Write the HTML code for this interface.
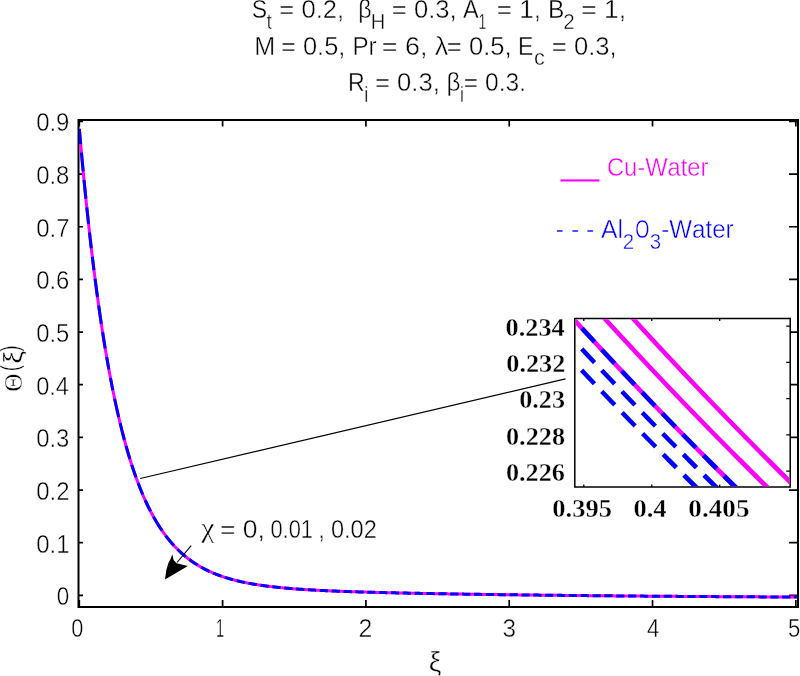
<!DOCTYPE html><html><head><meta charset="utf-8"><style>html,body{margin:0;padding:0;background:#fff;overflow:hidden}svg{display:block}text{font-kerning:none;white-space:pre;stroke:#fff;stroke-width:0.4px}text[font-weight=bold]{stroke:#fff;stroke-width:0.35px}svg{will-change:transform}</style></head><body>
<svg width="800" height="676" viewBox="0 0 800 676">
<rect x="0" y="0" width="800" height="676" fill="#fff"/>
<defs><clipPath id="axclip"><rect x="79.0" y="121.0" width="718.2" height="485.0"/></clipPath>
<clipPath id="inclip"><rect x="575.9" y="319.2" width="213.6" height="167.3"/></clipPath></defs>
<text transform="translate(251.70,17.50) scale(0.9590,1.0700)" font-family="Liberation Sans, sans-serif" font-size="24" fill="#000">S</text>
<text transform="translate(266.52,28.60) scale(1.0000,1.0700)" font-family="Liberation Sans, sans-serif" font-size="20" fill="#000">t</text>
<text transform="translate(279.35,17.50) scale(1.0682,1.0700)" font-family="Liberation Sans, sans-serif" font-size="24" fill="#000">= 0.2,</text>
<text transform="translate(358.14,17.50) scale(0.9695,1.0700)" font-family="Liberation Sans, sans-serif" font-size="24" fill="#000">β</text>
<text transform="translate(370.85,28.60) scale(1.0070,1.0700)" font-family="Liberation Sans, sans-serif" font-size="20" fill="#000">H</text>
<text transform="translate(391.85,17.50) scale(1.0682,1.0700)" font-family="Liberation Sans, sans-serif" font-size="24" fill="#000">= 0.3,</text>
<text transform="translate(463.05,17.50) scale(0.9834,1.0700)" font-family="Liberation Sans, sans-serif" font-size="24" fill="#000">A</text>
<text transform="translate(478.42,28.60) scale(0.7074,1.0700)" font-family="Liberation Sans, sans-serif" font-size="20" fill="#000">1</text>
<text transform="translate(496.83,17.50) scale(1.0877,1.0700)" font-family="Liberation Sans, sans-serif" font-size="24" fill="#000">= 1,</text>
<text transform="translate(547.98,17.50) scale(1.0256,1.0700)" font-family="Liberation Sans, sans-serif" font-size="24" fill="#000">B</text>
<text transform="translate(563.37,28.60) scale(1.0262,1.0700)" font-family="Liberation Sans, sans-serif" font-size="20" fill="#000">2</text>
<text transform="translate(581.21,17.50) scale(1.1038,1.0700)" font-family="Liberation Sans, sans-serif" font-size="24" fill="#000">= 1,</text>
<text transform="translate(254.18,54.60) scale(1.0495,1.0700)" font-family="Liberation Sans, sans-serif" font-size="24" fill="#000">M</text>
<text transform="translate(281.01,54.60) scale(1.0603,1.0700)" font-family="Liberation Sans, sans-serif" font-size="24" fill="#000">= 0.5,</text>
<text transform="translate(352.41,54.60) scale(1.0100,1.0700)" font-family="Liberation Sans, sans-serif" font-size="24" fill="#000">Pr</text>
<text transform="translate(381.79,54.60) scale(1.1212,1.0700)" font-family="Liberation Sans, sans-serif" font-size="24" fill="#000">= 6,</text>
<text transform="translate(434.82,54.60) scale(1.1269,1.0700)" font-family="Liberation Sans, sans-serif" font-size="24" fill="#000">λ</text>
<text transform="translate(446.85,54.60) scale(1.0682,1.0700)" font-family="Liberation Sans, sans-serif" font-size="24" fill="#000">= 0.5,</text>
<text transform="translate(518.11,54.60) scale(0.9610,1.0700)" font-family="Liberation Sans, sans-serif" font-size="24" fill="#000">E</text>
<text transform="translate(534.07,65.30) scale(1.0901,1.0700)" font-family="Liberation Sans, sans-serif" font-size="20" fill="#000">c</text>
<text transform="translate(551.85,54.60) scale(1.0682,1.0700)" font-family="Liberation Sans, sans-serif" font-size="24" fill="#000">= 0.3,</text>
<text transform="translate(348.10,91.25) scale(0.9649,1.0700)" font-family="Liberation Sans, sans-serif" font-size="24" fill="#000">R</text>
<text transform="translate(364.03,101.90) scale(1.0000,1.0700)" font-family="Liberation Sans, sans-serif" font-size="20" fill="#000">i</text>
<text transform="translate(375.00,91.25) scale(1.0673,1.0700)" font-family="Liberation Sans, sans-serif" font-size="24" fill="#000">= 0.3,</text>
<text transform="translate(446.42,91.25) scale(1.0097,1.0700)" font-family="Liberation Sans, sans-serif" font-size="24" fill="#000">β</text>
<text transform="translate(459.63,101.90) scale(1.0000,1.0700)" font-family="Liberation Sans, sans-serif" font-size="20" fill="#000">i</text>
<text transform="translate(463.80,91.25) scale(1.0244,1.0700)" font-family="Liberation Sans, sans-serif" font-size="24" fill="#000">= 0.3.</text>
<g stroke="#000" fill="none">
<rect x="78.5" y="120.0" width="719.5" height="487.0" stroke-width="2"/>
<path d="M79.30,607.0 V600.0 M79.30,120.0 V126.5 M222.61,607.0 V600.0 M222.61,120.0 V126.5 M365.92,607.0 V600.0 M365.92,120.0 V126.5 M509.23,607.0 V600.0 M509.23,120.0 V126.5 M652.54,607.0 V600.0 M652.54,120.0 V126.5 M795.85,607.0 V600.0 M795.85,120.0 V126.5 M78.5,595.36 H83.0 M798.0,595.36 H789.0 M78.5,542.70 H83.0 M798.0,542.70 H789.0 M78.5,490.04 H83.0 M798.0,490.04 H789.0 M78.5,437.38 H83.0 M798.0,437.38 H789.0 M78.5,384.72 H83.0 M798.0,384.72 H789.0 M78.5,332.06 H83.0 M798.0,332.06 H789.0 M78.5,279.40 H83.0 M798.0,279.40 H789.0 M78.5,226.74 H83.0 M798.0,226.74 H789.0 M78.5,174.08 H83.0 M798.0,174.08 H789.0 M78.5,121.42 H83.0 M798.0,121.42 H789.0" stroke-width="1.7"/>
</g>
<g clip-path="url(#axclip)" fill="none">
<path d="M79.34,129.00 L79.43,130.00 L79.51,131.00 L79.60,132.00 L79.69,133.00 L79.78,134.00 L79.86,135.00 L79.95,136.00 L80.04,137.00 L80.13,138.00 L80.22,139.00 L80.30,140.00 L80.39,141.00 L80.48,142.00 L80.57,143.00 L80.66,144.00 L80.75,145.00 L80.84,146.00 L80.93,147.00 L81.02,148.00 L81.11,149.00 L81.20,150.00 L81.29,151.00 L81.38,152.00 L81.48,153.00 L81.57,154.00 L81.66,155.00 L81.75,156.00 L81.84,157.00 L81.94,158.00 L82.03,159.00 L82.12,160.00 L82.21,161.00 L82.31,162.00 L82.40,163.00 L82.49,164.00 L82.59,165.00 L82.68,166.00 L82.78,167.00 L82.87,168.00 L82.97,169.00 L83.06,170.00 L83.16,171.00 L83.25,172.00 L83.35,173.00 L83.44,174.00 L83.54,175.00 L83.64,176.00 L83.73,177.00 L83.83,178.00 L83.93,179.00 L84.02,180.00 L84.12,181.00 L84.22,182.00 L84.32,183.00 L84.42,184.00 L84.51,185.00 L84.61,186.00 L84.71,187.00 L84.81,188.00 L84.91,189.00 L85.01,190.00 L85.11,191.00 L85.21,192.00 L85.31,193.00 L85.41,194.00 L85.51,195.00 L85.62,196.00 L85.72,197.00 L85.82,198.00 L85.92,199.00 L86.02,200.00 L86.13,201.00 L86.23,202.00 L86.33,203.00 L86.44,204.00 L86.54,205.00 L86.64,206.00 L86.75,207.00 L86.85,208.00 L86.96,209.00 L87.06,210.00 L87.17,211.00 L87.27,212.00 L87.38,213.00 L87.49,214.00 L87.59,215.00 L87.70,216.00 L87.81,217.00 L87.91,218.00 L88.02,219.00 L88.13,220.00 L88.24,221.00 L88.35,222.00 L88.45,223.00 L88.56,224.00 L88.67,225.00 L88.78,226.00 L88.89,227.00 L89.00,228.00 L89.11,229.00 L89.23,230.00 L89.34,231.00 L89.45,232.00 L89.56,233.00 L89.67,234.00 L89.78,235.00 L89.90,236.00 L90.01,237.00 L90.12,238.00 L90.24,239.00 L90.35,240.00 L90.47,241.00 L90.58,242.00 L90.70,243.00 L90.81,244.00 L90.93,245.00 L91.04,246.00 L91.16,247.00 L91.28,248.00 L91.40,249.00 L91.51,250.00 L91.63,251.00 L91.75,252.00 L91.87,253.00 L91.99,254.00 L92.11,255.00 L92.23,256.00 L92.35,257.00 L92.47,258.00 L92.59,259.00 L92.71,260.00 L92.83,261.00 L92.95,262.00 L93.07,263.00 L93.20,264.00 L93.32,265.00 L93.44,266.00 L93.57,267.00 L93.69,268.00 L93.82,269.00 L93.94,270.00 L94.07,271.00 L94.19,272.00 L94.32,273.00 L94.44,274.00 L94.57,275.00 L94.70,276.00 L94.83,277.00 L94.95,278.00 L95.08,279.00 L95.21,280.00 L95.34,281.00 L95.47,282.00 L95.60,283.00 L95.73,284.00 L95.86,285.00 L96.00,286.00 L96.13,287.00 L96.26,288.00 L96.39,289.00 L96.53,290.00 L96.66,291.00 L96.79,292.00 L96.93,293.00 L97.06,294.00 L97.20,295.00 L97.34,296.00 L97.47,297.00 L97.61,298.00 L97.75,299.00 L97.89,300.00 L98.02,301.00 L98.16,302.00 L98.30,303.00 L98.44,304.00 L98.58,305.00 L98.72,306.00 L98.87,307.00 L99.01,308.00 L99.15,309.00 L99.29,310.00 L99.44,311.00 L99.58,312.00 L99.72,313.00 L99.87,314.00 L100.02,315.00 L100.16,316.00 L100.31,317.00 L100.46,318.00 L100.60,319.00 L100.75,320.00 L100.90,321.00 L101.05,322.00 L101.20,323.00 L101.35,324.00 L101.50,325.00 L101.65,326.00 L101.81,327.00 L101.96,328.00 L102.11,329.00 L102.27,330.00 L102.42,331.00 L102.58,332.00 L102.73,333.00 L102.89,334.00 L103.05,335.00 L103.20,336.00 L103.36,337.00 L103.52,338.00 L103.68,339.00 L103.84,340.00 L104.00,341.00 L104.16,342.00 L104.33,343.00 L104.49,344.00 L104.65,345.00 L104.82,346.00 L104.98,347.00 L105.15,348.00 L105.31,349.00 L105.48,350.00 L105.65,351.00 L105.82,352.00 L105.99,353.00 L106.16,354.00 L106.33,355.00 L106.50,356.00 L106.67,357.00 L106.84,358.00 L107.02,359.00 L107.19,360.00 L107.37,361.00 L107.54,362.00 L107.72,363.00 L107.90,364.00 L108.07,365.00 L108.25,366.00 L108.43,367.00 L108.61,368.00 L108.80,369.00 L108.98,370.00 L109.16,371.00 L109.35,372.00 L109.53,373.00 L109.72,374.00 L109.90,375.00 L110.09,376.00 L110.28,377.00 L110.47,378.00 L110.66,379.00 L110.85,380.00 L111.04,381.00 L111.23,382.00 L111.43,383.00 L111.62,384.00 L111.82,385.00 L112.02,386.00 L112.21,387.00 L112.41,388.00 L112.61,389.00 L112.81,390.00 L113.01,391.00 L113.22,392.00 L113.42,393.00 L113.63,394.00 L113.83,395.00 L114.04,396.00 L114.25,397.00 L114.46,398.00 L114.67,399.00 L114.88,400.00 L115.09,401.00 L115.30,402.00 L115.52,403.00 L115.73,404.00 L115.95,405.00 L116.17,406.00 L116.39,407.00 L116.61,408.00 L116.83,409.00 L117.06,410.00 L117.28,411.00 L117.51,412.00 L117.73,413.00 L117.96,414.00 L118.19,415.00 L118.42,416.00 L118.66,417.00 L118.89,418.00 L119.12,419.00 L119.36,420.00 L119.60,421.00 L119.84,422.00 L120.08,423.00 L120.32,424.00 L120.56,425.00 L120.81,426.00 L121.06,427.00 L121.31,428.00 L121.56,429.00 L121.81,430.00 L122.06,431.00 L122.31,432.00 L122.57,433.00 L122.83,434.00 L123.09,435.00 L123.35,436.00 L123.61,437.00 L123.88,438.00 L124.14,439.00 L124.41,440.00 L124.68,441.00 L124.95,442.00 L125.23,443.00 L125.50,444.00 L125.78,445.00 L126.06,446.00 L126.34,447.00 L126.63,448.00 L126.91,449.00 L127.20,450.00 L127.49,451.00 L127.78,452.00 L128.08,453.00 L128.37,454.00 L128.67,455.00 L128.97,456.00 L129.28,457.00 L129.58,458.00 L129.89,459.00 L130.20,460.00 L130.51,461.00 L130.83,462.00 L131.14,463.00 L131.46,464.00 L131.79,465.00 L132.11,466.00 L132.44,467.00 L132.77,468.00 L133.10,469.00 L133.44,470.00 L133.78,471.00 L134.12,472.00 L134.46,473.00 L134.81,474.00 L135.16,475.00 L135.52,476.00 L135.87,477.00 L136.23,478.00 L136.60,479.00 L136.97,480.00 L137.34,481.00 L137.71,482.00 L138.09,483.00 L138.47,484.00 L138.85,485.00 L139.24,486.00 L139.63,487.00 L140.03,488.00 L140.43,489.00 L140.83,490.00 L141.24,491.00 L141.65,492.00 L142.07,493.00 L142.49,494.00 L142.92,495.00 L143.35,496.00 L143.78,497.00 L144.22,498.00 L144.66,499.00 L145.11,500.00 L145.57,501.00 L146.03,502.00 L146.49,503.00 L146.96,504.00 L147.44,505.00 L147.92,506.00 L148.41,507.00 L148.90,508.00 L149.40,509.00 L149.91,510.00 L150.42,511.00 L150.94,512.00 L151.46,513.00 L152.00,514.00 L152.54,515.00 L153.08,516.00 L153.64,517.00 L154.20,518.00 L154.77,519.00 L155.27,519.87 L155.77,520.72 L156.27,521.56 L156.77,522.40 L157.27,523.22 L157.77,524.03 L158.27,524.84 L158.77,525.63 L159.27,526.41 L159.77,527.19 L160.27,527.95 L160.77,528.71 L161.27,529.45 L161.77,530.19 L162.27,530.92 L162.77,531.64 L163.27,532.35 L163.77,533.05 L164.27,533.74 L164.77,534.42 L165.27,535.10 L165.77,535.77 L166.27,536.43 L166.77,537.08 L167.27,537.72 L167.77,538.35 L168.27,538.98 L168.77,539.60 L169.27,540.21 L169.77,540.82 L170.27,541.42 L170.77,542.01 L171.27,542.59 L171.77,543.16 L172.27,543.73 L172.77,544.29 L173.27,544.85 L173.77,545.40 L174.27,545.94 L174.77,546.47 L175.27,547.00 L175.77,547.52 L176.27,548.04 L176.77,548.55 L177.27,549.05 L177.77,549.55 L178.27,550.04 L178.77,550.52 L179.27,551.00 L179.77,551.48 L180.27,551.94 L180.77,552.41 L181.27,552.86 L181.77,553.31 L182.27,553.76 L182.77,554.20 L183.27,554.63 L183.77,555.06 L184.27,555.49 L184.77,555.90 L185.27,556.32 L185.77,556.73 L186.27,557.13 L186.77,557.53 L187.27,557.92 L187.77,558.31 L188.27,558.70 L188.77,559.08 L189.27,559.45 L189.77,559.82 L190.27,560.19 L190.77,560.55 L191.27,560.91 L191.77,561.26 L192.27,561.61 L192.77,561.96 L193.27,562.30 L193.77,562.64 L194.27,562.97 L194.77,563.30 L195.27,563.62 L195.77,563.94 L196.27,564.26 L196.77,564.57 L197.27,564.88 L197.77,565.19 L198.27,565.49 L198.77,565.79 L199.27,566.08 L199.77,566.38 L200.27,566.66 L200.77,566.95 L201.27,567.23 L201.77,567.51 L202.27,567.78 L202.77,568.05 L203.27,568.32 L203.77,568.59 L204.27,568.85 L204.77,569.11 L205.27,569.36 L205.77,569.62 L206.27,569.87 L206.77,570.11 L207.27,570.36 L207.77,570.60 L208.27,570.84 L208.77,571.07 L209.27,571.30 L209.77,571.53 L210.27,571.76 L210.77,571.98 L211.27,572.21 L211.77,572.43 L212.27,572.64 L212.77,572.86 L213.27,573.07 L213.77,573.28 L214.27,573.48 L214.77,573.69 L215.27,573.89 L215.77,574.09 L216.27,574.29 L216.77,574.48 L217.27,574.67 L217.77,574.86 L218.27,575.05 L218.77,575.24 L219.27,575.42 L219.77,575.60 L220.27,575.78 L220.77,575.96 L221.27,576.14 L221.77,576.31 L222.27,576.48 L222.77,576.65 L223.27,576.82 L223.77,576.98 L224.27,577.15 L224.77,577.31 L225.27,577.47 L225.77,577.63 L226.27,577.78 L226.77,577.94 L227.27,578.09 L227.77,578.24 L228.27,578.39 L228.77,578.54 L229.27,578.68 L229.77,578.83 L230.27,578.97 L230.77,579.11 L231.27,579.25 L231.77,579.39 L232.27,579.53 L232.77,579.66 L233.27,579.79 L233.77,579.93 L234.27,580.06 L234.77,580.18 L235.27,580.31 L235.77,580.44 L236.27,580.56 L236.77,580.69 L237.27,580.81 L237.77,580.93 L238.27,581.05 L238.77,581.16 L239.27,581.28 L239.77,581.40 L240.27,581.51 L240.77,581.62 L241.27,581.73 L241.77,581.84 L242.27,581.95 L242.77,582.06 L243.27,582.17 L243.77,582.27 L244.27,582.38 L244.77,582.48 L245.27,582.58 L245.77,582.68 L246.27,582.78 L246.77,582.88 L247.27,582.98 L247.77,583.07 L248.27,583.17 L248.77,583.26 L249.27,583.36 L249.77,583.45 L250.27,583.54 L250.77,583.63 L251.27,583.72 L251.77,583.81 L252.27,583.90 L252.77,583.98 L253.27,584.07 L253.77,584.15 L254.27,584.24 L254.77,584.32 L255.27,584.40 L255.77,584.48 L256.27,584.56 L256.77,584.64 L257.27,584.72 L257.77,584.80 L258.27,584.88 L258.77,584.95 L259.27,585.03 L259.77,585.10 L260.27,585.18 L260.77,585.25 L261.27,585.32 L261.77,585.39 L262.27,585.47 L262.77,585.54 L263.27,585.61 L263.77,585.67 L264.27,585.74 L264.77,585.81 L265.27,585.88 L265.77,585.94 L266.27,586.01 L266.77,586.07 L267.27,586.14 L267.77,586.20 L268.27,586.26 L268.77,586.32 L269.27,586.38 L269.77,586.45 L270.27,586.51 L270.77,586.56 L271.27,586.62 L271.77,586.68 L272.27,586.74 L272.77,586.80 L273.27,586.85 L273.77,586.91 L274.27,586.97 L274.77,587.02 L275.27,587.08 L275.77,587.13 L276.27,587.18 L276.77,587.24 L277.27,587.29 L277.77,587.34 L278.27,587.39 L278.77,587.44 L279.27,587.49 L279.77,587.54 L280.27,587.59 L280.77,587.64 L281.27,587.69 L281.77,587.74 L282.27,587.78 L282.77,587.83 L283.27,587.88 L283.77,587.92 L284.27,587.97 L284.77,588.02 L285.27,588.06 L285.77,588.11 L286.27,588.15 L286.77,588.19 L287.27,588.24 L287.77,588.28 L288.27,588.32 L288.77,588.36 L289.27,588.41 L289.77,588.45 L290.27,588.49 L290.77,588.53 L291.27,588.57 L291.77,588.61 L292.27,588.65 L292.77,588.69 L293.27,588.73 L293.77,588.76 L294.27,588.80 L294.77,588.84 L295.27,588.88 L295.77,588.92 L296.27,588.95 L296.77,588.99 L297.27,589.02 L297.77,589.06 L298.27,589.10 L298.77,589.13 L299.27,589.17 L299.77,589.20 L300.27,589.24 L300.77,589.27 L301.27,589.30 L301.77,589.34 L302.27,589.37 L302.77,589.40 L303.27,589.44 L303.77,589.47 L304.27,589.50 L304.77,589.53 L305.27,589.56 L305.77,589.60 L306.27,589.63 L306.77,589.66 L307.27,589.69 L307.77,589.72 L308.27,589.75 L308.77,589.78 L309.27,589.81 L309.77,589.84 L310.27,589.87 L310.77,589.90 L311.27,589.92 L311.77,589.95 L312.27,589.98 L312.77,590.01 L313.27,590.04 L313.77,590.06 L314.27,590.09 L314.77,590.12 L315.27,590.15 L315.77,590.17 L316.27,590.20 L316.77,590.22 L317.27,590.25 L317.77,590.28 L318.27,590.30 L318.77,590.33 L319.27,590.35 L319.77,590.38 L320.27,590.40 L320.77,590.43 L321.27,590.45 L321.77,590.48 L322.27,590.50 L322.77,590.53 L323.27,590.55 L323.77,590.57 L324.27,590.60 L324.77,590.62 L325.27,590.64 L325.77,590.67 L326.27,590.69 L326.77,590.71 L327.27,590.74 L327.77,590.76 L328.27,590.78 L328.77,590.80 L329.27,590.82 L329.77,590.85 L330.27,590.87 L330.77,590.89 L331.27,590.91 L331.77,590.93 L332.27,590.95 L332.77,590.97 L333.27,591.00 L333.77,591.02 L334.27,591.04 L334.77,591.06 L335.27,591.08 L335.77,591.10 L336.27,591.12 L336.77,591.14 L337.27,591.16 L337.77,591.18 L338.27,591.20 L338.77,591.22 L339.27,591.23 L339.77,591.25 L340.27,591.27 L340.77,591.29 L341.27,591.31 L341.77,591.33 L342.27,591.35 L342.77,591.37 L343.27,591.39 L343.77,591.40 L344.27,591.42 L344.77,591.44 L345.27,591.46 L345.77,591.48 L346.27,591.49 L346.77,591.51 L347.27,591.53 L347.77,591.55 L348.27,591.56 L348.77,591.58 L349.27,591.60 L349.77,591.61 L350.27,591.63 L350.77,591.65 L351.27,591.67 L351.77,591.68 L352.27,591.70 L352.77,591.71 L353.27,591.73 L353.77,591.75 L354.27,591.76 L354.77,591.78 L355.27,591.80 L355.77,591.81 L356.27,591.83 L356.77,591.84 L357.27,591.86 L357.77,591.87 L358.27,591.89 L358.77,591.91 L359.27,591.92 L359.77,591.94 L360.27,591.95 L360.77,591.97 L361.27,591.98 L361.77,592.00 L362.27,592.01 L362.77,592.03 L363.27,592.04 L363.77,592.06 L364.27,592.07 L364.77,592.09 L365.27,592.10 L365.77,592.11 L366.27,592.13 L366.77,592.14 L367.27,592.16 L367.77,592.17 L368.27,592.19 L368.77,592.20 L369.27,592.21 L369.77,592.23 L370.27,592.24 L370.77,592.25 L371.27,592.27 L371.77,592.28 L372.27,592.30 L372.77,592.31 L373.27,592.32 L373.77,592.34 L374.27,592.35 L374.77,592.36 L375.27,592.38 L375.77,592.39 L376.27,592.40 L376.77,592.41 L377.27,592.43 L377.77,592.44 L378.27,592.45 L378.77,592.47 L379.27,592.48 L379.77,592.49 L380.27,592.50 L380.77,592.52 L381.27,592.53 L381.77,592.54 L382.27,592.55 L382.77,592.57 L383.27,592.58 L383.77,592.59 L384.27,592.60 L384.77,592.62 L385.27,592.63 L385.77,592.64 L386.27,592.65 L386.77,592.66 L387.27,592.68 L387.77,592.69 L388.27,592.70 L388.77,592.71 L389.27,592.72 L389.77,592.74 L390.27,592.75 L390.77,592.76 L391.27,592.77 L391.77,592.78 L392.27,592.79 L392.77,592.81 L393.27,592.82 L393.77,592.83 L394.27,592.84 L394.77,592.85 L395.27,592.86 L395.77,592.87 L396.27,592.88 L396.77,592.90 L397.27,592.91 L397.77,592.92 L398.27,592.93 L398.77,592.94 L399.27,592.95 L399.77,592.96 L400.27,592.97 L400.77,592.98 L401.27,592.99 L401.77,593.00 L402.27,593.02 L402.77,593.03 L403.27,593.04 L403.77,593.05 L404.27,593.06 L404.77,593.07 L405.27,593.08 L405.77,593.09 L406.27,593.10 L406.77,593.11 L407.27,593.12 L407.77,593.13 L408.27,593.14 L408.77,593.15 L409.27,593.16 L409.77,593.17 L410.27,593.18 L410.77,593.19 L411.27,593.20 L411.77,593.21 L412.27,593.22 L412.77,593.23 L413.27,593.24 L413.77,593.25 L414.27,593.26 L414.77,593.27 L415.27,593.28 L415.77,593.29 L416.27,593.30 L416.77,593.31 L417.27,593.32 L417.77,593.33 L418.27,593.34 L418.77,593.35 L419.27,593.36 L419.77,593.37 L420.27,593.38 L420.77,593.39 L421.27,593.40 L421.77,593.41 L422.27,593.42 L422.77,593.43 L423.27,593.44 L423.77,593.45 L424.27,593.46 L424.77,593.46 L425.27,593.47 L425.77,593.48 L426.27,593.49 L426.77,593.50 L427.27,593.51 L427.77,593.52 L428.27,593.53 L428.77,593.54 L429.27,593.55 L429.77,593.56 L430.27,593.57 L430.77,593.57 L431.27,593.58 L431.77,593.59 L432.27,593.60 L432.77,593.61 L433.27,593.62 L433.77,593.63 L434.27,593.64 L434.77,593.65 L435.27,593.66 L435.77,593.66 L436.27,593.67 L436.77,593.68 L437.27,593.69 L437.77,593.70 L438.27,593.71 L438.77,593.72 L439.27,593.73 L439.77,593.73 L440.27,593.74 L440.77,593.75 L441.27,593.76 L441.77,593.77 L442.27,593.78 L442.77,593.79 L443.27,593.79 L443.77,593.80 L444.27,593.81 L444.77,593.82 L445.27,593.83 L445.77,593.84 L446.27,593.84 L446.77,593.85 L447.27,593.86 L447.77,593.87 L448.27,593.88 L448.77,593.89 L449.27,593.89 L449.77,593.90 L450.27,593.91 L450.77,593.92 L451.27,593.93 L451.77,593.93 L452.27,593.94 L452.77,593.95 L453.27,593.96 L453.77,593.97 L454.27,593.97 L454.77,593.98 L455.27,593.99 L455.77,594.00 L456.27,594.01 L456.77,594.01 L457.27,594.02 L457.77,594.03 L458.27,594.04 L458.77,594.05 L459.27,594.05 L459.77,594.06 L460.27,594.07 L460.77,594.08 L461.27,594.09 L461.77,594.09 L462.27,594.10 L462.77,594.11 L463.27,594.12 L463.77,594.12 L464.27,594.13 L464.77,594.14 L465.27,594.15 L465.77,594.16 L466.27,594.16 L466.77,594.17 L467.27,594.18 L467.77,594.19 L468.27,594.19 L468.77,594.20 L469.27,594.21 L469.77,594.22 L470.27,594.22 L470.77,594.23 L471.27,594.24 L471.77,594.25 L472.27,594.25 L472.77,594.26 L473.27,594.27 L473.77,594.28 L474.27,594.28 L474.77,594.29 L475.27,594.30 L475.77,594.30 L476.27,594.31 L476.77,594.32 L477.27,594.33 L477.77,594.33 L478.27,594.34 L478.77,594.35 L479.27,594.36 L479.77,594.36 L480.27,594.37 L480.77,594.38 L481.27,594.38 L481.77,594.39 L482.27,594.40 L482.77,594.41 L483.27,594.41 L483.77,594.42 L484.27,594.43 L484.77,594.43 L485.27,594.44 L485.77,594.45 L486.27,594.45 L486.77,594.46 L487.27,594.47 L487.77,594.48 L488.27,594.48 L488.77,594.49 L489.27,594.50 L489.77,594.50 L490.27,594.51 L490.77,594.52 L491.27,594.52 L491.77,594.53 L492.27,594.54 L492.77,594.54 L493.27,594.55 L493.77,594.56 L494.27,594.56 L494.77,594.57 L495.27,594.58 L495.77,594.59 L496.27,594.59 L496.77,594.60 L497.27,594.61 L497.77,594.61 L498.27,594.62 L498.77,594.63 L499.27,594.63 L499.77,594.64 L500.27,594.65 L500.77,594.65 L501.27,594.66 L501.77,594.67 L502.27,594.67 L502.77,594.68 L503.27,594.68 L503.77,594.69 L504.27,594.70 L504.77,594.70 L505.27,594.71 L505.77,594.72 L506.27,594.72 L506.77,594.73 L507.27,594.74 L507.77,594.74 L508.27,594.75 L508.77,594.76 L509.27,594.76 L509.77,594.77 L510.27,594.78 L510.77,594.78 L511.27,594.79 L511.77,594.79 L512.27,594.80 L512.77,594.81 L513.27,594.81 L513.77,594.82 L514.27,594.83 L514.77,594.83 L515.27,594.84 L515.77,594.84 L516.27,594.85 L516.77,594.86 L517.27,594.86 L517.77,594.87 L518.27,594.88 L518.77,594.88 L519.27,594.89 L519.77,594.89 L520.27,594.90 L520.77,594.91 L521.27,594.91 L521.77,594.92 L522.27,594.92 L522.77,594.93 L523.27,594.94 L523.77,594.94 L524.27,594.95 L524.77,594.95 L525.27,594.96 L525.77,594.97 L526.27,594.97 L526.77,594.98 L527.27,594.98 L527.77,594.99 L528.27,595.00 L528.77,595.00 L529.27,595.01 L529.77,595.01 L530.27,595.02 L530.77,595.03 L531.27,595.03 L531.77,595.04 L532.27,595.04 L532.77,595.05 L533.27,595.06 L533.77,595.06 L534.27,595.07 L534.77,595.07 L535.27,595.08 L535.77,595.08 L536.27,595.09 L536.77,595.10 L537.27,595.10 L537.77,595.11 L538.27,595.11 L538.77,595.12 L539.27,595.13 L539.77,595.13 L540.27,595.14 L540.77,595.14 L541.27,595.15 L541.77,595.15 L542.27,595.16 L542.77,595.16 L543.27,595.17 L543.77,595.18 L544.27,595.18 L544.77,595.19 L545.27,595.19 L545.77,595.20 L546.27,595.20 L546.77,595.21 L547.27,595.22 L547.77,595.22 L548.27,595.23 L548.77,595.23 L549.27,595.24 L549.77,595.24 L550.27,595.25 L550.77,595.25 L551.27,595.26 L551.77,595.26 L552.27,595.27 L552.77,595.28 L553.27,595.28 L553.77,595.29 L554.27,595.29 L554.77,595.30 L555.27,595.30 L555.77,595.31 L556.27,595.31 L556.77,595.32 L557.27,595.32 L557.77,595.33 L558.27,595.34 L558.77,595.34 L559.27,595.35 L559.77,595.35 L560.27,595.36 L560.77,595.36 L561.27,595.37 L561.77,595.37 L562.27,595.38 L562.77,595.38 L563.27,595.39 L563.77,595.39 L564.27,595.40 L564.77,595.40 L565.27,595.41 L565.77,595.41 L566.27,595.42 L566.77,595.42 L567.27,595.43 L567.77,595.43 L568.27,595.44 L568.77,595.45 L569.27,595.45 L569.77,595.46 L570.27,595.46 L570.77,595.47 L571.27,595.47 L571.77,595.48 L572.27,595.48 L572.77,595.49 L573.27,595.49 L573.77,595.50 L574.27,595.50 L574.77,595.51 L575.27,595.51 L575.77,595.52 L576.27,595.52 L576.77,595.53 L577.27,595.53 L577.77,595.54 L578.27,595.54 L578.77,595.55 L579.27,595.55 L579.77,595.56 L580.27,595.56 L580.77,595.57 L581.27,595.57 L581.77,595.58 L582.27,595.58 L582.77,595.59 L583.27,595.59 L583.77,595.60 L584.27,595.60 L584.77,595.61 L585.27,595.61 L585.77,595.61 L586.27,595.62 L586.77,595.62 L587.27,595.63 L587.77,595.63 L588.27,595.64 L588.77,595.64 L589.27,595.65 L589.77,595.65 L590.27,595.66 L590.77,595.66 L591.27,595.67 L591.77,595.67 L592.27,595.68 L592.77,595.68 L593.27,595.69 L593.77,595.69 L594.27,595.70 L594.77,595.70 L595.27,595.71 L595.77,595.71 L596.27,595.71 L596.77,595.72 L597.27,595.72 L597.77,595.73 L598.27,595.73 L598.77,595.74 L599.27,595.74 L599.77,595.75 L600.27,595.75 L600.77,595.76 L601.27,595.76 L601.77,595.77 L602.27,595.77 L602.77,595.77 L603.27,595.78 L603.77,595.78 L604.27,595.79 L604.77,595.79 L605.27,595.80 L605.77,595.80 L606.27,595.81 L606.77,595.81 L607.27,595.82 L607.77,595.82 L608.27,595.82 L608.77,595.83 L609.27,595.83 L609.77,595.84 L610.27,595.84 L610.77,595.85 L611.27,595.85 L611.77,595.86 L612.27,595.86 L612.77,595.86 L613.27,595.87 L613.77,595.87 L614.27,595.88 L614.77,595.88 L615.27,595.89 L615.77,595.89 L616.27,595.89 L616.77,595.90 L617.27,595.90 L617.77,595.91 L618.27,595.91 L618.77,595.92 L619.27,595.92 L619.77,595.92 L620.27,595.93 L620.77,595.93 L621.27,595.94 L621.77,595.94 L622.27,595.95 L622.77,595.95 L623.27,595.95 L623.77,595.96 L624.27,595.96 L624.77,595.97 L625.27,595.97 L625.77,595.98 L626.27,595.98 L626.77,595.98 L627.27,595.99 L627.77,595.99 L628.27,596.00 L628.77,596.00 L629.27,596.01 L629.77,596.01 L630.27,596.01 L630.77,596.02 L631.27,596.02 L631.77,596.03 L632.27,596.03 L632.77,596.03 L633.27,596.04 L633.77,596.04 L634.27,596.05 L634.77,596.05 L635.27,596.05 L635.77,596.06 L636.27,596.06 L636.77,596.07 L637.27,596.07 L637.77,596.07 L638.27,596.08 L638.77,596.08 L639.27,596.09 L639.77,596.09 L640.27,596.09 L640.77,596.10 L641.27,596.10 L641.77,596.11 L642.27,596.11 L642.77,596.11 L643.27,596.12 L643.77,596.12 L644.27,596.13 L644.77,596.13 L645.27,596.13 L645.77,596.14 L646.27,596.14 L646.77,596.15 L647.27,596.15 L647.77,596.15 L648.27,596.16 L648.77,596.16 L649.27,596.17 L649.77,596.17 L650.27,596.17 L650.77,596.18 L651.27,596.18 L651.77,596.18 L652.27,596.19 L652.77,596.19 L653.27,596.20 L653.77,596.20 L654.27,596.20 L654.77,596.21 L655.27,596.21 L655.77,596.22 L656.27,596.22 L656.77,596.22 L657.27,596.23 L657.77,596.23 L658.27,596.23 L658.77,596.24 L659.27,596.24 L659.77,596.25 L660.27,596.25 L660.77,596.25 L661.27,596.26 L661.77,596.26 L662.27,596.26 L662.77,596.27 L663.27,596.27 L663.77,596.28 L664.27,596.28 L664.77,596.28 L665.27,596.29 L665.77,596.29 L666.27,596.29 L666.77,596.30 L667.27,596.30 L667.77,596.30 L668.27,596.31 L668.77,596.31 L669.27,596.32 L669.77,596.32 L670.27,596.32 L670.77,596.33 L671.27,596.33 L671.77,596.33 L672.27,596.34 L672.77,596.34 L673.27,596.34 L673.77,596.35 L674.27,596.35 L674.77,596.35 L675.27,596.36 L675.77,596.36 L676.27,596.37 L676.77,596.37 L677.27,596.37 L677.77,596.38 L678.27,596.38 L678.77,596.38 L679.27,596.39 L679.77,596.39 L680.27,596.39 L680.77,596.40 L681.27,596.40 L681.77,596.40 L682.27,596.41 L682.77,596.41 L683.27,596.41 L683.77,596.42 L684.27,596.42 L684.77,596.42 L685.27,596.43 L685.77,596.43 L686.27,596.43 L686.77,596.44 L687.27,596.44 L687.77,596.44 L688.27,596.45 L688.77,596.45 L689.27,596.46 L689.77,596.46 L690.27,596.46 L690.77,596.47 L691.27,596.47 L691.77,596.47 L692.27,596.48 L692.77,596.48 L693.27,596.48 L693.77,596.49 L694.27,596.49 L694.77,596.49 L695.27,596.50 L695.77,596.50 L696.27,596.50 L696.77,596.50 L697.27,596.51 L697.77,596.51 L698.27,596.51 L698.77,596.52 L699.27,596.52 L699.77,596.52 L700.27,596.53 L700.77,596.53 L701.27,596.53 L701.77,596.54 L702.27,596.54 L702.77,596.54 L703.27,596.55 L703.77,596.55 L704.27,596.55 L704.77,596.56 L705.27,596.56 L705.77,596.56 L706.27,596.57 L706.77,596.57 L707.27,596.57 L707.77,596.58 L708.27,596.58 L708.77,596.58 L709.27,596.59 L709.77,596.59 L710.27,596.59 L710.77,596.59 L711.27,596.60 L711.77,596.60 L712.27,596.60 L712.77,596.61 L713.27,596.61 L713.77,596.61 L714.27,596.62 L714.77,596.62 L715.27,596.62 L715.77,596.63 L716.27,596.63 L716.77,596.63 L717.27,596.63 L717.77,596.64 L718.27,596.64 L718.77,596.64 L719.27,596.65 L719.77,596.65 L720.27,596.65 L720.77,596.66 L721.27,596.66 L721.77,596.66 L722.27,596.67 L722.77,596.67 L723.27,596.67 L723.77,596.67 L724.27,596.68 L724.77,596.68 L725.27,596.68 L725.77,596.69 L726.27,596.69 L726.77,596.69 L727.27,596.70 L727.77,596.70 L728.27,596.70 L728.77,596.70 L729.27,596.71 L729.77,596.71 L730.27,596.71 L730.77,596.72 L731.27,596.72 L731.77,596.72 L732.27,596.72 L732.77,596.73 L733.27,596.73 L733.77,596.73 L734.27,596.74 L734.77,596.74 L735.27,596.74 L735.77,596.74 L736.27,596.75 L736.77,596.75 L737.27,596.75 L737.77,596.76 L738.27,596.76 L738.77,596.76 L739.27,596.76 L739.77,596.77 L740.27,596.77 L740.77,596.77 L741.27,596.78 L741.77,596.78 L742.27,596.78 L742.77,596.78 L743.27,596.79 L743.77,596.79 L744.27,596.79 L744.77,596.80 L745.27,596.80 L745.77,596.80 L746.27,596.80 L746.77,596.81 L747.27,596.81 L747.77,596.81 L748.27,596.81 L748.77,596.82 L749.27,596.82 L749.77,596.82 L750.27,596.83 L750.77,596.83 L751.27,596.83 L751.77,596.83 L752.27,596.84 L752.77,596.84 L753.27,596.84 L753.77,596.84 L754.27,596.85 L754.77,596.85 L755.27,596.85 L755.77,596.86 L756.27,596.86 L756.77,596.86 L757.27,596.86 L757.77,596.87 L758.27,596.87 L758.77,596.87 L759.27,596.87 L759.77,596.88 L760.27,596.88 L760.77,596.88 L761.27,596.88 L761.77,596.89 L762.27,596.89 L762.77,596.89 L763.27,596.90 L763.77,596.90 L764.27,596.90 L764.77,596.90 L765.27,596.91 L765.77,596.91 L766.27,596.91 L766.77,596.91 L767.27,596.92 L767.77,596.92 L768.27,596.92 L768.77,596.92 L769.27,596.93 L769.77,596.93 L770.27,596.93 L770.77,596.93 L771.27,596.94 L771.77,596.94 L772.27,596.94 L772.77,596.94 L773.27,596.95 L773.77,596.95 L774.27,596.95 L774.77,596.95 L775.27,596.96 L775.77,596.96 L776.27,596.96 L776.77,596.96 L777.27,596.97 L777.77,596.97 L778.27,596.97 L778.77,596.97 L779.27,596.98 L779.77,596.98 L780.27,596.98 L780.77,596.98 L781.27,596.99 L781.77,596.99 L782.27,596.99 L782.77,596.99 L783.27,597.00 L783.77,597.00 L784.27,597.00 L784.77,597.00 L785.27,597.01 L785.77,597.01 L786.27,597.01 L786.77,597.01 L787.27,597.02 L787.77,597.02 L788.27,597.02 L788.77,597.02 L789.27,597.02 L789.77,597.03 L790.27,597.03 L790.77,597.03 L791.27,597.03 L791.77,597.04 L792.27,597.04 L792.77,597.04 L793.27,597.04 L793.77,597.05 L794.27,597.05 L794.77,597.05 L795.27,597.05 L795.77,597.06 L796.27,597.06 L796.77,597.06" stroke="#ff00ff" stroke-width="3"/>
<path d="M79.34,129.00 L79.43,130.00 L79.51,131.00 L79.60,132.00 L79.69,133.00 L79.78,134.00 L79.86,135.00 L79.95,136.00 L80.04,137.00 L80.13,138.00 L80.22,139.00 L80.30,140.00 L80.39,141.00 L80.48,142.00 L80.57,143.00 L80.66,144.00 L80.75,145.00 L80.84,146.00 L80.93,147.00 L81.02,148.00 L81.11,149.00 L81.20,150.00 L81.29,151.00 L81.38,152.00 L81.48,153.00 L81.57,154.00 L81.66,155.00 L81.75,156.00 L81.84,157.00 L81.94,158.00 L82.03,159.00 L82.12,160.00 L82.21,161.00 L82.31,162.00 L82.40,163.00 L82.49,164.00 L82.59,165.00 L82.68,166.00 L82.78,167.00 L82.87,168.00 L82.97,169.00 L83.06,170.00 L83.16,171.00 L83.25,172.00 L83.35,173.00 L83.44,174.00 L83.54,175.00 L83.64,176.00 L83.73,177.00 L83.83,178.00 L83.93,179.00 L84.02,180.00 L84.12,181.00 L84.22,182.00 L84.32,183.00 L84.42,184.00 L84.51,185.00 L84.61,186.00 L84.71,187.00 L84.81,188.00 L84.91,189.00 L85.01,190.00 L85.11,191.00 L85.21,192.00 L85.31,193.00 L85.41,194.00 L85.51,195.00 L85.62,196.00 L85.72,197.00 L85.82,198.00 L85.92,199.00 L86.02,200.00 L86.13,201.00 L86.23,202.00 L86.33,203.00 L86.44,204.00 L86.54,205.00 L86.64,206.00 L86.75,207.00 L86.85,208.00 L86.96,209.00 L87.06,210.00 L87.17,211.00 L87.27,212.00 L87.38,213.00 L87.49,214.00 L87.59,215.00 L87.70,216.00 L87.81,217.00 L87.91,218.00 L88.02,219.00 L88.13,220.00 L88.24,221.00 L88.35,222.00 L88.45,223.00 L88.56,224.00 L88.67,225.00 L88.78,226.00 L88.89,227.00 L89.00,228.00 L89.11,229.00 L89.23,230.00 L89.34,231.00 L89.45,232.00 L89.56,233.00 L89.67,234.00 L89.78,235.00 L89.90,236.00 L90.01,237.00 L90.12,238.00 L90.24,239.00 L90.35,240.00 L90.47,241.00 L90.58,242.00 L90.70,243.00 L90.81,244.00 L90.93,245.00 L91.04,246.00 L91.16,247.00 L91.28,248.00 L91.40,249.00 L91.51,250.00 L91.63,251.00 L91.75,252.00 L91.87,253.00 L91.99,254.00 L92.11,255.00 L92.23,256.00 L92.35,257.00 L92.47,258.00 L92.59,259.00 L92.71,260.00 L92.83,261.00 L92.95,262.00 L93.07,263.00 L93.20,264.00 L93.32,265.00 L93.44,266.00 L93.57,267.00 L93.69,268.00 L93.82,269.00 L93.94,270.00 L94.07,271.00 L94.19,272.00 L94.32,273.00 L94.44,274.00 L94.57,275.00 L94.70,276.00 L94.83,277.00 L94.95,278.00 L95.08,279.00 L95.21,280.00 L95.34,281.00 L95.47,282.00 L95.60,283.00 L95.73,284.00 L95.86,285.00 L96.00,286.00 L96.13,287.00 L96.26,288.00 L96.39,289.00 L96.53,290.00 L96.66,291.00 L96.79,292.00 L96.93,293.00 L97.06,294.00 L97.20,295.00 L97.34,296.00 L97.47,297.00 L97.61,298.00 L97.75,299.00 L97.89,300.00 L98.02,301.00 L98.16,302.00 L98.30,303.00 L98.44,304.00 L98.58,305.00 L98.72,306.00 L98.87,307.00 L99.01,308.00 L99.15,309.00 L99.29,310.00 L99.44,311.00 L99.58,312.00 L99.72,313.00 L99.87,314.00 L100.02,315.00 L100.16,316.00 L100.31,317.00 L100.46,318.00 L100.60,319.00 L100.75,320.00 L100.90,321.00 L101.05,322.00 L101.20,323.00 L101.35,324.00 L101.50,325.00 L101.65,326.00 L101.81,327.00 L101.96,328.00 L102.11,329.00 L102.27,330.00 L102.42,331.00 L102.58,332.00 L102.73,333.00 L102.89,334.00 L103.05,335.00 L103.20,336.00 L103.36,337.00 L103.52,338.00 L103.68,339.00 L103.84,340.00 L104.00,341.00 L104.16,342.00 L104.33,343.00 L104.49,344.00 L104.65,345.00 L104.82,346.00 L104.98,347.00 L105.15,348.00 L105.31,349.00 L105.48,350.00 L105.65,351.00 L105.82,352.00 L105.99,353.00 L106.16,354.00 L106.33,355.00 L106.50,356.00 L106.67,357.00 L106.84,358.00 L107.02,359.00 L107.19,360.00 L107.37,361.00 L107.54,362.00 L107.72,363.00 L107.90,364.00 L108.07,365.00 L108.25,366.00 L108.43,367.00 L108.61,368.00 L108.80,369.00 L108.98,370.00 L109.16,371.00 L109.35,372.00 L109.53,373.00 L109.72,374.00 L109.90,375.00 L110.09,376.00 L110.28,377.00 L110.47,378.00 L110.66,379.00 L110.85,380.00 L111.04,381.00 L111.23,382.00 L111.43,383.00 L111.62,384.00 L111.82,385.00 L112.02,386.00 L112.21,387.00 L112.41,388.00 L112.61,389.00 L112.81,390.00 L113.01,391.00 L113.22,392.00 L113.42,393.00 L113.63,394.00 L113.83,395.00 L114.04,396.00 L114.25,397.00 L114.46,398.00 L114.67,399.00 L114.88,400.00 L115.09,401.00 L115.30,402.00 L115.52,403.00 L115.73,404.00 L115.95,405.00 L116.17,406.00 L116.39,407.00 L116.61,408.00 L116.83,409.00 L117.06,410.00 L117.28,411.00 L117.51,412.00 L117.73,413.00 L117.96,414.00 L118.19,415.00 L118.42,416.00 L118.66,417.00 L118.89,418.00 L119.12,419.00 L119.36,420.00 L119.60,421.00 L119.84,422.00 L120.08,423.00 L120.32,424.00 L120.56,425.00 L120.81,426.00 L121.06,427.00 L121.31,428.00 L121.56,429.00 L121.81,430.00 L122.06,431.00 L122.31,432.00 L122.57,433.00 L122.83,434.00 L123.09,435.00 L123.35,436.00 L123.61,437.00 L123.88,438.00 L124.14,439.00 L124.41,440.00 L124.68,441.00 L124.95,442.00 L125.23,443.00 L125.50,444.00 L125.78,445.00 L126.06,446.00 L126.34,447.00 L126.63,448.00 L126.91,449.00 L127.20,450.00 L127.49,451.00 L127.78,452.00 L128.08,453.00 L128.37,454.00 L128.67,455.00 L128.97,456.00 L129.28,457.00 L129.58,458.00 L129.89,459.00 L130.20,460.00 L130.51,461.00 L130.83,462.00 L131.14,463.00 L131.46,464.00 L131.79,465.00 L132.11,466.00 L132.44,467.00 L132.77,468.00 L133.10,469.00 L133.44,470.00 L133.78,471.00 L134.12,472.00 L134.46,473.00 L134.81,474.00 L135.16,475.00 L135.52,476.00 L135.87,477.00 L136.23,478.00 L136.60,479.00 L136.97,480.00 L137.34,481.00 L137.71,482.00 L138.09,483.00 L138.47,484.00 L138.85,485.00 L139.24,486.00 L139.63,487.00 L140.03,488.00 L140.43,489.00 L140.83,490.00 L141.24,491.00 L141.65,492.00 L142.07,493.00 L142.49,494.00 L142.92,495.00 L143.35,496.00 L143.78,497.00 L144.22,498.00 L144.66,499.00 L145.11,500.00 L145.57,501.00 L146.03,502.00 L146.49,503.00 L146.96,504.00 L147.44,505.00 L147.92,506.00 L148.41,507.00 L148.90,508.00 L149.40,509.00 L149.91,510.00 L150.42,511.00 L150.94,512.00 L151.46,513.00 L152.00,514.00 L152.54,515.00 L153.08,516.00 L153.64,517.00 L154.20,518.00 L154.77,519.00 L155.27,519.87 L155.77,520.72 L156.27,521.56 L156.77,522.40 L157.27,523.22 L157.77,524.03 L158.27,524.84 L158.77,525.63 L159.27,526.41 L159.77,527.19 L160.27,527.95 L160.77,528.71 L161.27,529.45 L161.77,530.19 L162.27,530.92 L162.77,531.64 L163.27,532.35 L163.77,533.05 L164.27,533.74 L164.77,534.42 L165.27,535.10 L165.77,535.77 L166.27,536.43 L166.77,537.08 L167.27,537.72 L167.77,538.35 L168.27,538.98 L168.77,539.60 L169.27,540.21 L169.77,540.82 L170.27,541.42 L170.77,542.01 L171.27,542.59 L171.77,543.16 L172.27,543.73 L172.77,544.29 L173.27,544.85 L173.77,545.40 L174.27,545.94 L174.77,546.47 L175.27,547.00 L175.77,547.52 L176.27,548.04 L176.77,548.55 L177.27,549.05 L177.77,549.55 L178.27,550.04 L178.77,550.52 L179.27,551.00 L179.77,551.48 L180.27,551.94 L180.77,552.41 L181.27,552.86 L181.77,553.31 L182.27,553.76 L182.77,554.20 L183.27,554.63 L183.77,555.06 L184.27,555.49 L184.77,555.90 L185.27,556.32 L185.77,556.73 L186.27,557.13 L186.77,557.53 L187.27,557.92 L187.77,558.31 L188.27,558.70 L188.77,559.08 L189.27,559.45 L189.77,559.82 L190.27,560.19 L190.77,560.55 L191.27,560.91 L191.77,561.26 L192.27,561.61 L192.77,561.96 L193.27,562.30 L193.77,562.64 L194.27,562.97 L194.77,563.30 L195.27,563.62 L195.77,563.94 L196.27,564.26 L196.77,564.57 L197.27,564.88 L197.77,565.19 L198.27,565.49 L198.77,565.79 L199.27,566.08 L199.77,566.38 L200.27,566.66 L200.77,566.95 L201.27,567.23 L201.77,567.51 L202.27,567.78 L202.77,568.05 L203.27,568.32 L203.77,568.59 L204.27,568.85 L204.77,569.11 L205.27,569.36 L205.77,569.62 L206.27,569.87 L206.77,570.11 L207.27,570.36 L207.77,570.60 L208.27,570.84 L208.77,571.07 L209.27,571.30 L209.77,571.53 L210.27,571.76 L210.77,571.98 L211.27,572.21 L211.77,572.43 L212.27,572.64 L212.77,572.86 L213.27,573.07 L213.77,573.28 L214.27,573.48 L214.77,573.69 L215.27,573.89 L215.77,574.09 L216.27,574.29 L216.77,574.48 L217.27,574.67 L217.77,574.86 L218.27,575.05 L218.77,575.24 L219.27,575.42 L219.77,575.60 L220.27,575.78 L220.77,575.96 L221.27,576.14 L221.77,576.31 L222.27,576.48 L222.77,576.65 L223.27,576.82 L223.77,576.98 L224.27,577.15 L224.77,577.31 L225.27,577.47 L225.77,577.63 L226.27,577.78 L226.77,577.94 L227.27,578.09 L227.77,578.24 L228.27,578.39 L228.77,578.54 L229.27,578.68 L229.77,578.83 L230.27,578.97 L230.77,579.11 L231.27,579.25 L231.77,579.39 L232.27,579.53 L232.77,579.66 L233.27,579.79 L233.77,579.93 L234.27,580.06 L234.77,580.18 L235.27,580.31 L235.77,580.44 L236.27,580.56 L236.77,580.69 L237.27,580.81 L237.77,580.93 L238.27,581.05 L238.77,581.16 L239.27,581.28 L239.77,581.40 L240.27,581.51 L240.77,581.62 L241.27,581.73 L241.77,581.84 L242.27,581.95 L242.77,582.06 L243.27,582.17 L243.77,582.27 L244.27,582.38 L244.77,582.48 L245.27,582.58 L245.77,582.68 L246.27,582.78 L246.77,582.88 L247.27,582.98 L247.77,583.07 L248.27,583.17 L248.77,583.26 L249.27,583.36 L249.77,583.45 L250.27,583.54 L250.77,583.63 L251.27,583.72 L251.77,583.81 L252.27,583.90 L252.77,583.98 L253.27,584.07 L253.77,584.15 L254.27,584.24 L254.77,584.32 L255.27,584.40 L255.77,584.48 L256.27,584.56 L256.77,584.64 L257.27,584.72 L257.77,584.80 L258.27,584.88 L258.77,584.95 L259.27,585.03 L259.77,585.10 L260.27,585.18 L260.77,585.25 L261.27,585.32 L261.77,585.39 L262.27,585.47 L262.77,585.54 L263.27,585.61 L263.77,585.67 L264.27,585.74 L264.77,585.81 L265.27,585.88 L265.77,585.94 L266.27,586.01 L266.77,586.07 L267.27,586.14 L267.77,586.20 L268.27,586.26 L268.77,586.32 L269.27,586.38 L269.77,586.45 L270.27,586.51 L270.77,586.56 L271.27,586.62 L271.77,586.68 L272.27,586.74 L272.77,586.80 L273.27,586.85 L273.77,586.91 L274.27,586.97 L274.77,587.02 L275.27,587.08 L275.77,587.13 L276.27,587.18 L276.77,587.24 L277.27,587.29 L277.77,587.34 L278.27,587.39 L278.77,587.44 L279.27,587.49 L279.77,587.54 L280.27,587.59 L280.77,587.64 L281.27,587.69 L281.77,587.74 L282.27,587.78 L282.77,587.83 L283.27,587.88 L283.77,587.92 L284.27,587.97 L284.77,588.02 L285.27,588.06 L285.77,588.11 L286.27,588.15 L286.77,588.19 L287.27,588.24 L287.77,588.28 L288.27,588.32 L288.77,588.36 L289.27,588.41 L289.77,588.45 L290.27,588.49 L290.77,588.53 L291.27,588.57 L291.77,588.61 L292.27,588.65 L292.77,588.69 L293.27,588.73 L293.77,588.76 L294.27,588.80 L294.77,588.84 L295.27,588.88 L295.77,588.92 L296.27,588.95 L296.77,588.99 L297.27,589.02 L297.77,589.06 L298.27,589.10 L298.77,589.13 L299.27,589.17 L299.77,589.20 L300.27,589.24 L300.77,589.27 L301.27,589.30 L301.77,589.34 L302.27,589.37 L302.77,589.40 L303.27,589.44 L303.77,589.47 L304.27,589.50 L304.77,589.53 L305.27,589.56 L305.77,589.60 L306.27,589.63 L306.77,589.66 L307.27,589.69 L307.77,589.72 L308.27,589.75 L308.77,589.78 L309.27,589.81 L309.77,589.84 L310.27,589.87 L310.77,589.90 L311.27,589.92 L311.77,589.95 L312.27,589.98 L312.77,590.01 L313.27,590.04 L313.77,590.06 L314.27,590.09 L314.77,590.12 L315.27,590.15 L315.77,590.17 L316.27,590.20 L316.77,590.22 L317.27,590.25 L317.77,590.28 L318.27,590.30 L318.77,590.33 L319.27,590.35 L319.77,590.38 L320.27,590.40 L320.77,590.43 L321.27,590.45 L321.77,590.48 L322.27,590.50 L322.77,590.53 L323.27,590.55 L323.77,590.57 L324.27,590.60 L324.77,590.62 L325.27,590.64 L325.77,590.67 L326.27,590.69 L326.77,590.71 L327.27,590.74 L327.77,590.76 L328.27,590.78 L328.77,590.80 L329.27,590.82 L329.77,590.85 L330.27,590.87 L330.77,590.89 L331.27,590.91 L331.77,590.93 L332.27,590.95 L332.77,590.97 L333.27,591.00 L333.77,591.02 L334.27,591.04 L334.77,591.06 L335.27,591.08 L335.77,591.10 L336.27,591.12 L336.77,591.14 L337.27,591.16 L337.77,591.18 L338.27,591.20 L338.77,591.22 L339.27,591.23 L339.77,591.25 L340.27,591.27 L340.77,591.29 L341.27,591.31 L341.77,591.33 L342.27,591.35 L342.77,591.37 L343.27,591.39 L343.77,591.40 L344.27,591.42 L344.77,591.44 L345.27,591.46 L345.77,591.48 L346.27,591.49 L346.77,591.51 L347.27,591.53 L347.77,591.55 L348.27,591.56 L348.77,591.58 L349.27,591.60 L349.77,591.61 L350.27,591.63 L350.77,591.65 L351.27,591.67 L351.77,591.68 L352.27,591.70 L352.77,591.71 L353.27,591.73 L353.77,591.75 L354.27,591.76 L354.77,591.78 L355.27,591.80 L355.77,591.81 L356.27,591.83 L356.77,591.84 L357.27,591.86 L357.77,591.87 L358.27,591.89 L358.77,591.91 L359.27,591.92 L359.77,591.94 L360.27,591.95 L360.77,591.97 L361.27,591.98 L361.77,592.00 L362.27,592.01 L362.77,592.03 L363.27,592.04 L363.77,592.06 L364.27,592.07 L364.77,592.09 L365.27,592.10 L365.77,592.11 L366.27,592.13 L366.77,592.14 L367.27,592.16 L367.77,592.17 L368.27,592.19 L368.77,592.20 L369.27,592.21 L369.77,592.23 L370.27,592.24 L370.77,592.25 L371.27,592.27 L371.77,592.28 L372.27,592.30 L372.77,592.31 L373.27,592.32 L373.77,592.34 L374.27,592.35 L374.77,592.36 L375.27,592.38 L375.77,592.39 L376.27,592.40 L376.77,592.41 L377.27,592.43 L377.77,592.44 L378.27,592.45 L378.77,592.47 L379.27,592.48 L379.77,592.49 L380.27,592.50 L380.77,592.52 L381.27,592.53 L381.77,592.54 L382.27,592.55 L382.77,592.57 L383.27,592.58 L383.77,592.59 L384.27,592.60 L384.77,592.62 L385.27,592.63 L385.77,592.64 L386.27,592.65 L386.77,592.66 L387.27,592.68 L387.77,592.69 L388.27,592.70 L388.77,592.71 L389.27,592.72 L389.77,592.74 L390.27,592.75 L390.77,592.76 L391.27,592.77 L391.77,592.78 L392.27,592.79 L392.77,592.81 L393.27,592.82 L393.77,592.83 L394.27,592.84 L394.77,592.85 L395.27,592.86 L395.77,592.87 L396.27,592.88 L396.77,592.90 L397.27,592.91 L397.77,592.92 L398.27,592.93 L398.77,592.94 L399.27,592.95 L399.77,592.96 L400.27,592.97 L400.77,592.98 L401.27,592.99 L401.77,593.00 L402.27,593.02 L402.77,593.03 L403.27,593.04 L403.77,593.05 L404.27,593.06 L404.77,593.07 L405.27,593.08 L405.77,593.09 L406.27,593.10 L406.77,593.11 L407.27,593.12 L407.77,593.13 L408.27,593.14 L408.77,593.15 L409.27,593.16 L409.77,593.17 L410.27,593.18 L410.77,593.19 L411.27,593.20 L411.77,593.21 L412.27,593.22 L412.77,593.23 L413.27,593.24 L413.77,593.25 L414.27,593.26 L414.77,593.27 L415.27,593.28 L415.77,593.29 L416.27,593.30 L416.77,593.31 L417.27,593.32 L417.77,593.33 L418.27,593.34 L418.77,593.35 L419.27,593.36 L419.77,593.37 L420.27,593.38 L420.77,593.39 L421.27,593.40 L421.77,593.41 L422.27,593.42 L422.77,593.43 L423.27,593.44 L423.77,593.45 L424.27,593.46 L424.77,593.46 L425.27,593.47 L425.77,593.48 L426.27,593.49 L426.77,593.50 L427.27,593.51 L427.77,593.52 L428.27,593.53 L428.77,593.54 L429.27,593.55 L429.77,593.56 L430.27,593.57 L430.77,593.57 L431.27,593.58 L431.77,593.59 L432.27,593.60 L432.77,593.61 L433.27,593.62 L433.77,593.63 L434.27,593.64 L434.77,593.65 L435.27,593.66 L435.77,593.66 L436.27,593.67 L436.77,593.68 L437.27,593.69 L437.77,593.70 L438.27,593.71 L438.77,593.72 L439.27,593.73 L439.77,593.73 L440.27,593.74 L440.77,593.75 L441.27,593.76 L441.77,593.77 L442.27,593.78 L442.77,593.79 L443.27,593.79 L443.77,593.80 L444.27,593.81 L444.77,593.82 L445.27,593.83 L445.77,593.84 L446.27,593.84 L446.77,593.85 L447.27,593.86 L447.77,593.87 L448.27,593.88 L448.77,593.89 L449.27,593.89 L449.77,593.90 L450.27,593.91 L450.77,593.92 L451.27,593.93 L451.77,593.93 L452.27,593.94 L452.77,593.95 L453.27,593.96 L453.77,593.97 L454.27,593.97 L454.77,593.98 L455.27,593.99 L455.77,594.00 L456.27,594.01 L456.77,594.01 L457.27,594.02 L457.77,594.03 L458.27,594.04 L458.77,594.05 L459.27,594.05 L459.77,594.06 L460.27,594.07 L460.77,594.08 L461.27,594.09 L461.77,594.09 L462.27,594.10 L462.77,594.11 L463.27,594.12 L463.77,594.12 L464.27,594.13 L464.77,594.14 L465.27,594.15 L465.77,594.16 L466.27,594.16 L466.77,594.17 L467.27,594.18 L467.77,594.19 L468.27,594.19 L468.77,594.20 L469.27,594.21 L469.77,594.22 L470.27,594.22 L470.77,594.23 L471.27,594.24 L471.77,594.25 L472.27,594.25 L472.77,594.26 L473.27,594.27 L473.77,594.28 L474.27,594.28 L474.77,594.29 L475.27,594.30 L475.77,594.30 L476.27,594.31 L476.77,594.32 L477.27,594.33 L477.77,594.33 L478.27,594.34 L478.77,594.35 L479.27,594.36 L479.77,594.36 L480.27,594.37 L480.77,594.38 L481.27,594.38 L481.77,594.39 L482.27,594.40 L482.77,594.41 L483.27,594.41 L483.77,594.42 L484.27,594.43 L484.77,594.43 L485.27,594.44 L485.77,594.45 L486.27,594.45 L486.77,594.46 L487.27,594.47 L487.77,594.48 L488.27,594.48 L488.77,594.49 L489.27,594.50 L489.77,594.50 L490.27,594.51 L490.77,594.52 L491.27,594.52 L491.77,594.53 L492.27,594.54 L492.77,594.54 L493.27,594.55 L493.77,594.56 L494.27,594.56 L494.77,594.57 L495.27,594.58 L495.77,594.59 L496.27,594.59 L496.77,594.60 L497.27,594.61 L497.77,594.61 L498.27,594.62 L498.77,594.63 L499.27,594.63 L499.77,594.64 L500.27,594.65 L500.77,594.65 L501.27,594.66 L501.77,594.67 L502.27,594.67 L502.77,594.68 L503.27,594.68 L503.77,594.69 L504.27,594.70 L504.77,594.70 L505.27,594.71 L505.77,594.72 L506.27,594.72 L506.77,594.73 L507.27,594.74 L507.77,594.74 L508.27,594.75 L508.77,594.76 L509.27,594.76 L509.77,594.77 L510.27,594.78 L510.77,594.78 L511.27,594.79 L511.77,594.79 L512.27,594.80 L512.77,594.81 L513.27,594.81 L513.77,594.82 L514.27,594.83 L514.77,594.83 L515.27,594.84 L515.77,594.84 L516.27,594.85 L516.77,594.86 L517.27,594.86 L517.77,594.87 L518.27,594.88 L518.77,594.88 L519.27,594.89 L519.77,594.89 L520.27,594.90 L520.77,594.91 L521.27,594.91 L521.77,594.92 L522.27,594.92 L522.77,594.93 L523.27,594.94 L523.77,594.94 L524.27,594.95 L524.77,594.95 L525.27,594.96 L525.77,594.97 L526.27,594.97 L526.77,594.98 L527.27,594.98 L527.77,594.99 L528.27,595.00 L528.77,595.00 L529.27,595.01 L529.77,595.01 L530.27,595.02 L530.77,595.03 L531.27,595.03 L531.77,595.04 L532.27,595.04 L532.77,595.05 L533.27,595.06 L533.77,595.06 L534.27,595.07 L534.77,595.07 L535.27,595.08 L535.77,595.08 L536.27,595.09 L536.77,595.10 L537.27,595.10 L537.77,595.11 L538.27,595.11 L538.77,595.12 L539.27,595.13 L539.77,595.13 L540.27,595.14 L540.77,595.14 L541.27,595.15 L541.77,595.15 L542.27,595.16 L542.77,595.16 L543.27,595.17 L543.77,595.18 L544.27,595.18 L544.77,595.19 L545.27,595.19 L545.77,595.20 L546.27,595.20 L546.77,595.21 L547.27,595.22 L547.77,595.22 L548.27,595.23 L548.77,595.23 L549.27,595.24 L549.77,595.24 L550.27,595.25 L550.77,595.25 L551.27,595.26 L551.77,595.26 L552.27,595.27 L552.77,595.28 L553.27,595.28 L553.77,595.29 L554.27,595.29 L554.77,595.30 L555.27,595.30 L555.77,595.31 L556.27,595.31 L556.77,595.32 L557.27,595.32 L557.77,595.33 L558.27,595.34 L558.77,595.34 L559.27,595.35 L559.77,595.35 L560.27,595.36 L560.77,595.36 L561.27,595.37 L561.77,595.37 L562.27,595.38 L562.77,595.38 L563.27,595.39 L563.77,595.39 L564.27,595.40 L564.77,595.40 L565.27,595.41 L565.77,595.41 L566.27,595.42 L566.77,595.42 L567.27,595.43 L567.77,595.43 L568.27,595.44 L568.77,595.45 L569.27,595.45 L569.77,595.46 L570.27,595.46 L570.77,595.47 L571.27,595.47 L571.77,595.48 L572.27,595.48 L572.77,595.49 L573.27,595.49 L573.77,595.50 L574.27,595.50 L574.77,595.51 L575.27,595.51 L575.77,595.52 L576.27,595.52 L576.77,595.53 L577.27,595.53 L577.77,595.54 L578.27,595.54 L578.77,595.55 L579.27,595.55 L579.77,595.56 L580.27,595.56 L580.77,595.57 L581.27,595.57 L581.77,595.58 L582.27,595.58 L582.77,595.59 L583.27,595.59 L583.77,595.60 L584.27,595.60 L584.77,595.61 L585.27,595.61 L585.77,595.61 L586.27,595.62 L586.77,595.62 L587.27,595.63 L587.77,595.63 L588.27,595.64 L588.77,595.64 L589.27,595.65 L589.77,595.65 L590.27,595.66 L590.77,595.66 L591.27,595.67 L591.77,595.67 L592.27,595.68 L592.77,595.68 L593.27,595.69 L593.77,595.69 L594.27,595.70 L594.77,595.70 L595.27,595.71 L595.77,595.71 L596.27,595.71 L596.77,595.72 L597.27,595.72 L597.77,595.73 L598.27,595.73 L598.77,595.74 L599.27,595.74 L599.77,595.75 L600.27,595.75 L600.77,595.76 L601.27,595.76 L601.77,595.77 L602.27,595.77 L602.77,595.77 L603.27,595.78 L603.77,595.78 L604.27,595.79 L604.77,595.79 L605.27,595.80 L605.77,595.80 L606.27,595.81 L606.77,595.81 L607.27,595.82 L607.77,595.82 L608.27,595.82 L608.77,595.83 L609.27,595.83 L609.77,595.84 L610.27,595.84 L610.77,595.85 L611.27,595.85 L611.77,595.86 L612.27,595.86 L612.77,595.86 L613.27,595.87 L613.77,595.87 L614.27,595.88 L614.77,595.88 L615.27,595.89 L615.77,595.89 L616.27,595.89 L616.77,595.90 L617.27,595.90 L617.77,595.91 L618.27,595.91 L618.77,595.92 L619.27,595.92 L619.77,595.92 L620.27,595.93 L620.77,595.93 L621.27,595.94 L621.77,595.94 L622.27,595.95 L622.77,595.95 L623.27,595.95 L623.77,595.96 L624.27,595.96 L624.77,595.97 L625.27,595.97 L625.77,595.98 L626.27,595.98 L626.77,595.98 L627.27,595.99 L627.77,595.99 L628.27,596.00 L628.77,596.00 L629.27,596.01 L629.77,596.01 L630.27,596.01 L630.77,596.02 L631.27,596.02 L631.77,596.03 L632.27,596.03 L632.77,596.03 L633.27,596.04 L633.77,596.04 L634.27,596.05 L634.77,596.05 L635.27,596.05 L635.77,596.06 L636.27,596.06 L636.77,596.07 L637.27,596.07 L637.77,596.07 L638.27,596.08 L638.77,596.08 L639.27,596.09 L639.77,596.09 L640.27,596.09 L640.77,596.10 L641.27,596.10 L641.77,596.11 L642.27,596.11 L642.77,596.11 L643.27,596.12 L643.77,596.12 L644.27,596.13 L644.77,596.13 L645.27,596.13 L645.77,596.14 L646.27,596.14 L646.77,596.15 L647.27,596.15 L647.77,596.15 L648.27,596.16 L648.77,596.16 L649.27,596.17 L649.77,596.17 L650.27,596.17 L650.77,596.18 L651.27,596.18 L651.77,596.18 L652.27,596.19 L652.77,596.19 L653.27,596.20 L653.77,596.20 L654.27,596.20 L654.77,596.21 L655.27,596.21 L655.77,596.22 L656.27,596.22 L656.77,596.22 L657.27,596.23 L657.77,596.23 L658.27,596.23 L658.77,596.24 L659.27,596.24 L659.77,596.25 L660.27,596.25 L660.77,596.25 L661.27,596.26 L661.77,596.26 L662.27,596.26 L662.77,596.27 L663.27,596.27 L663.77,596.28 L664.27,596.28 L664.77,596.28 L665.27,596.29 L665.77,596.29 L666.27,596.29 L666.77,596.30 L667.27,596.30 L667.77,596.30 L668.27,596.31 L668.77,596.31 L669.27,596.32 L669.77,596.32 L670.27,596.32 L670.77,596.33 L671.27,596.33 L671.77,596.33 L672.27,596.34 L672.77,596.34 L673.27,596.34 L673.77,596.35 L674.27,596.35 L674.77,596.35 L675.27,596.36 L675.77,596.36 L676.27,596.37 L676.77,596.37 L677.27,596.37 L677.77,596.38 L678.27,596.38 L678.77,596.38 L679.27,596.39 L679.77,596.39 L680.27,596.39 L680.77,596.40 L681.27,596.40 L681.77,596.40 L682.27,596.41 L682.77,596.41 L683.27,596.41 L683.77,596.42 L684.27,596.42 L684.77,596.42 L685.27,596.43 L685.77,596.43 L686.27,596.43 L686.77,596.44 L687.27,596.44 L687.77,596.44 L688.27,596.45 L688.77,596.45 L689.27,596.46 L689.77,596.46 L690.27,596.46 L690.77,596.47 L691.27,596.47 L691.77,596.47 L692.27,596.48 L692.77,596.48 L693.27,596.48 L693.77,596.49 L694.27,596.49 L694.77,596.49 L695.27,596.50 L695.77,596.50 L696.27,596.50 L696.77,596.50 L697.27,596.51 L697.77,596.51 L698.27,596.51 L698.77,596.52 L699.27,596.52 L699.77,596.52 L700.27,596.53 L700.77,596.53 L701.27,596.53 L701.77,596.54 L702.27,596.54 L702.77,596.54 L703.27,596.55 L703.77,596.55 L704.27,596.55 L704.77,596.56 L705.27,596.56 L705.77,596.56 L706.27,596.57 L706.77,596.57 L707.27,596.57 L707.77,596.58 L708.27,596.58 L708.77,596.58 L709.27,596.59 L709.77,596.59 L710.27,596.59 L710.77,596.59 L711.27,596.60 L711.77,596.60 L712.27,596.60 L712.77,596.61 L713.27,596.61 L713.77,596.61 L714.27,596.62 L714.77,596.62 L715.27,596.62 L715.77,596.63 L716.27,596.63 L716.77,596.63 L717.27,596.63 L717.77,596.64 L718.27,596.64 L718.77,596.64 L719.27,596.65 L719.77,596.65 L720.27,596.65 L720.77,596.66 L721.27,596.66 L721.77,596.66 L722.27,596.67 L722.77,596.67 L723.27,596.67 L723.77,596.67 L724.27,596.68 L724.77,596.68 L725.27,596.68 L725.77,596.69 L726.27,596.69 L726.77,596.69 L727.27,596.70 L727.77,596.70 L728.27,596.70 L728.77,596.70 L729.27,596.71 L729.77,596.71 L730.27,596.71 L730.77,596.72 L731.27,596.72 L731.77,596.72 L732.27,596.72 L732.77,596.73 L733.27,596.73 L733.77,596.73 L734.27,596.74 L734.77,596.74 L735.27,596.74 L735.77,596.74 L736.27,596.75 L736.77,596.75 L737.27,596.75 L737.77,596.76 L738.27,596.76 L738.77,596.76 L739.27,596.76 L739.77,596.77 L740.27,596.77 L740.77,596.77 L741.27,596.78 L741.77,596.78 L742.27,596.78 L742.77,596.78 L743.27,596.79 L743.77,596.79 L744.27,596.79 L744.77,596.80 L745.27,596.80 L745.77,596.80 L746.27,596.80 L746.77,596.81 L747.27,596.81 L747.77,596.81 L748.27,596.81 L748.77,596.82 L749.27,596.82 L749.77,596.82 L750.27,596.83 L750.77,596.83 L751.27,596.83 L751.77,596.83 L752.27,596.84 L752.77,596.84 L753.27,596.84 L753.77,596.84 L754.27,596.85 L754.77,596.85 L755.27,596.85 L755.77,596.86 L756.27,596.86 L756.77,596.86 L757.27,596.86 L757.77,596.87 L758.27,596.87 L758.77,596.87 L759.27,596.87 L759.77,596.88 L760.27,596.88 L760.77,596.88 L761.27,596.88 L761.77,596.89 L762.27,596.89 L762.77,596.89 L763.27,596.90 L763.77,596.90 L764.27,596.90 L764.77,596.90 L765.27,596.91 L765.77,596.91 L766.27,596.91 L766.77,596.91 L767.27,596.92 L767.77,596.92 L768.27,596.92 L768.77,596.92 L769.27,596.93 L769.77,596.93 L770.27,596.93 L770.77,596.93 L771.27,596.94 L771.77,596.94 L772.27,596.94 L772.77,596.94 L773.27,596.95 L773.77,596.95 L774.27,596.95 L774.77,596.95 L775.27,596.96 L775.77,596.96 L776.27,596.96 L776.77,596.96 L777.27,596.97 L777.77,596.97 L778.27,596.97 L778.77,596.97 L779.27,596.98 L779.77,596.98 L780.27,596.98 L780.77,596.98 L781.27,596.99 L781.77,596.99 L782.27,596.99 L782.77,596.99 L783.27,597.00 L783.77,597.00 L784.27,597.00 L784.77,597.00 L785.27,597.01 L785.77,597.01 L786.27,597.01 L786.77,597.01 L787.27,597.02 L787.77,597.02 L788.27,597.02 L788.77,597.02 L789.27,597.02 L789.77,597.03 L790.27,597.03 L790.77,597.03 L791.27,597.03 L791.77,597.04 L792.27,597.04 L792.77,597.04 L793.27,597.04 L793.77,597.05 L794.27,597.05 L794.77,597.05 L795.27,597.05 L795.77,597.06 L796.27,597.06 L796.77,597.06" stroke="#0000ff" stroke-width="3" stroke-dasharray="15.18 8.60 18.72 8.60 18.94 8.60 16.74 8.60 15.86 8.60 13.57 8.60 18.33 8.60 18.48 8.60 16.52 8.60 12.73 8.60 12.49 8.60 18.92 6.20 17.23 6.20 13.61 6.20 13.14 6.20 12.34 6.20 12.17 6.20 16.40 6.15 12.93 5.20 11.11 4.56 9.97 4.17 9.26 3.94 8.85 3.80 8.60 3.71 8.46 3.67 8.38 3.64 8.33 3.63 8.31 3.62 8.29 3.61 8.28 3.61 8.27 3.60 8.27 3.60 8.27 3.60 8.26 3.60 8.26 3.60 8.26 3.60 8.26 3.60 8.26 3.60 8.26 3.60 8.26 3.60 8.26 3.60 8.26 3.60 8.26 3.60 8.26 3.60 8.26 3.60 8.26 3.60 8.26 3.60 8.26 3.60 8.26 3.60 8.26 3.60 8.26 3.60 8.26 3.60 8.26 3.60 8.26 3.60 8.26 3.60 8.26 3.60 8.26 3.60 8.26 3.60 8.26 3.60 8.26 3.60 8.26 3.60 8.26 3.60 8.26 3.60 8.26 3.60 8.26 3.60 8.26 3.60 8.26 3.60 8.26 3.60 8.26 3.60 8.26 3.60 8.26 3.60 52.57 0.01"/>
</g>
<text transform="translate(56.63,605.26) scale(0.9327,1.0700)" font-family="Liberation Sans, sans-serif" font-size="24" fill="#000">0</text>
<text transform="translate(36.16,552.60) scale(0.9983,1.0700)" font-family="Liberation Sans, sans-serif" font-size="24" fill="#000">0.1</text>
<text transform="translate(36.16,499.94) scale(0.9994,1.0700)" font-family="Liberation Sans, sans-serif" font-size="24" fill="#000">0.2</text>
<text transform="translate(36.17,447.28) scale(0.9945,1.0700)" font-family="Liberation Sans, sans-serif" font-size="24" fill="#000">0.3</text>
<text transform="translate(36.18,394.62) scale(0.9835,1.0700)" font-family="Liberation Sans, sans-serif" font-size="24" fill="#000">0.4</text>
<text transform="translate(36.17,341.96) scale(0.9931,1.0700)" font-family="Liberation Sans, sans-serif" font-size="24" fill="#000">0.5</text>
<text transform="translate(36.17,289.30) scale(0.9945,1.0700)" font-family="Liberation Sans, sans-serif" font-size="24" fill="#000">0.6</text>
<text transform="translate(36.16,236.64) scale(0.9994,1.0700)" font-family="Liberation Sans, sans-serif" font-size="24" fill="#000">0.7</text>
<text transform="translate(36.17,183.98) scale(0.9942,1.0700)" font-family="Liberation Sans, sans-serif" font-size="24" fill="#000">0.8</text>
<text transform="translate(36.17,131.32) scale(0.9972,1.0700)" font-family="Liberation Sans, sans-serif" font-size="24" fill="#000">0.9</text>
<text transform="translate(71.35,636.80) scale(0.9065,1.0700)" font-family="Liberation Sans, sans-serif" font-size="24" fill="#000">0</text>
<text transform="translate(216.09,636.80) scale(0.6088,1.0700)" font-family="Liberation Sans, sans-serif" font-size="24" fill="#000">1</text>
<text transform="translate(358.45,636.80) scale(1.0335,1.0700)" font-family="Liberation Sans, sans-serif" font-size="24" fill="#000">2</text>
<text transform="translate(502.38,636.80) scale(1.0106,1.0700)" font-family="Liberation Sans, sans-serif" font-size="24" fill="#000">3</text>
<text transform="translate(646.89,636.80) scale(0.9344,1.0700)" font-family="Liberation Sans, sans-serif" font-size="24" fill="#000">4</text>
<text transform="translate(788.11,636.80) scale(0.9228,1.0700)" font-family="Liberation Sans, sans-serif" font-size="24" fill="#000">5</text>
<text transform="translate(428.81,670.80) scale(1.0896,1.0400)" font-family="Liberation Sans, sans-serif" font-size="26" fill="#000">ξ</text>
<text transform="translate(21.65,391.64) rotate(-90) scale(0.9733,1.0000)" font-family="Liberation Serif, serif" font-size="26" fill="#000">Θ</text>
<text transform="translate(19.00,371.35) rotate(-90) scale(0.7108,1.0000)" font-family="Liberation Sans, sans-serif" font-size="26" fill="#000">(</text>
<text transform="translate(21.70,363.81) rotate(-90) scale(1.1096,1.0000)" font-family="Liberation Sans, sans-serif" font-size="26" fill="#000">ξ</text>
<text transform="translate(19.00,351.61) rotate(-90) scale(0.6963,1.0000)" font-family="Liberation Sans, sans-serif" font-size="26" fill="#000">)</text>
<rect x="560.6" y="179.4" width="38.8" height="2.1" fill="#ff00ff"/>
<text transform="translate(606.89,175.90) scale(0.9895,1.0700)" font-family="Liberation Sans, sans-serif" font-size="24" fill="#ff00ff">Cu-Water</text>
<text transform="translate(555.80,238.10) scale(1.0312,1.0700)" font-family="Liberation Sans, sans-serif" font-size="24" fill="#0000ff">- - - Al</text>
<text transform="translate(622.72,249.00) scale(1.0262,1.0700)" font-family="Liberation Sans, sans-serif" font-size="20" fill="#0000ff">2</text>
<text transform="translate(635.34,238.40) scale(0.7569,1.0700)" font-family="Liberation Sans, sans-serif" font-size="24" fill="#0000ff">O</text>
<text transform="translate(649.82,248.60) scale(1.0229,1.0700)" font-family="Liberation Sans, sans-serif" font-size="20" fill="#0000ff">3</text>
<text transform="translate(661.23,238.20) scale(1.0052,1.0700)" font-family="Liberation Sans, sans-serif" font-size="24" fill="#0000ff">-Water</text>
<rect x="574.8" y="318.5" width="215.4" height="168.5" fill="#fff" stroke="#000" stroke-width="1.5"/>
<g clip-path="url(#inclip)" fill="none" stroke-width="4.6">
<path d="M556.26,300.00 L557.16,301.00 L558.06,302.00 L558.96,303.00 L559.86,304.00 L560.77,305.00 L561.67,306.00 L562.58,307.00 L563.48,308.00 L564.39,309.00 L565.29,310.00 L566.20,311.00 L567.11,312.00 L568.02,313.00 L568.93,314.00 L569.84,315.00 L570.75,316.00 L571.66,317.00 L572.57,318.00 L573.48,319.00 L574.39,320.00 L575.30,321.00 L576.22,322.00 L577.13,323.00 L578.05,324.00 L578.96,325.00 L579.88,326.00 L580.80,327.00 L581.71,328.00 L582.63,329.00 L583.55,330.00 L584.47,331.00 L585.39,332.00 L586.31,333.00 L587.23,334.00 L588.15,335.00 L589.07,336.00 L590.00,337.00 L590.92,338.00 L591.84,339.00 L592.77,340.00 L593.69,341.00 L594.62,342.00 L595.55,343.00 L596.47,344.00 L597.40,345.00 L598.33,346.00 L599.26,347.00 L600.19,348.00 L601.12,349.00 L602.05,350.00 L602.98,351.00 L603.91,352.00 L604.84,353.00 L605.78,354.00 L606.71,355.00 L607.64,356.00 L608.58,357.00 L609.51,358.00 L610.45,359.00 L611.39,360.00 L612.32,361.00 L613.26,362.00 L614.20,363.00 L615.14,364.00 L616.08,365.00 L617.02,366.00 L617.96,367.00 L618.90,368.00 L619.84,369.00 L620.79,370.00 L621.73,371.00 L622.67,372.00 L623.62,373.00 L624.56,374.00 L625.51,375.00 L626.46,376.00 L627.40,377.00 L628.35,378.00 L629.30,379.00 L630.25,380.00 L631.20,381.00 L632.15,382.00 L633.10,383.00 L634.05,384.00 L635.00,385.00 L635.95,386.00 L636.91,387.00 L637.86,388.00 L638.81,389.00 L639.77,390.00 L640.72,391.00 L641.68,392.00 L642.64,393.00 L643.59,394.00 L644.55,395.00 L645.51,396.00 L646.47,397.00 L647.43,398.00 L648.39,399.00 L649.35,400.00 L650.31,401.00 L651.27,402.00 L652.24,403.00 L653.20,404.00 L654.16,405.00 L655.13,406.00 L656.09,407.00 L657.06,408.00 L658.03,409.00 L658.99,410.00 L659.96,411.00 L660.93,412.00 L661.90,413.00 L662.87,414.00 L663.84,415.00 L664.81,416.00 L665.78,417.00 L666.75,418.00 L667.72,419.00 L668.70,420.00 L669.67,421.00 L670.64,422.00 L671.62,423.00 L672.59,424.00 L673.57,425.00 L674.55,426.00 L675.52,427.00 L676.50,428.00 L677.48,429.00 L678.46,430.00 L679.44,431.00 L680.42,432.00 L681.40,433.00 L682.38,434.00 L683.36,435.00 L684.35,436.00 L685.33,437.00 L686.31,438.00 L687.30,439.00 L688.28,440.00 L689.27,441.00 L690.25,442.00 L691.24,443.00 L692.23,444.00 L693.22,445.00 L694.21,446.00 L695.20,447.00 L696.19,448.00 L697.18,449.00 L698.17,450.00 L699.16,451.00 L700.15,452.00 L701.14,453.00 L702.14,454.00 L703.13,455.00 L704.13,456.00 L705.12,457.00 L706.12,458.00 L707.11,459.00 L708.11,460.00 L709.11,461.00 L710.11,462.00 L711.11,463.00 L712.11,464.00 L713.11,465.00 L714.11,466.00 L715.11,467.00 L716.11,468.00 L717.11,469.00 L718.12,470.00 L719.12,471.00 L720.13,472.00 L721.13,473.00 L722.14,474.00 L723.14,475.00 L724.15,476.00 L725.16,477.00 L726.17,478.00 L727.17,479.00 L728.18,480.00 L729.19,481.00 L730.20,482.00 L731.21,483.00 L732.23,484.00 L733.24,485.00 L734.25,486.00 L735.27,487.00 L736.28,488.00 L737.29,489.00 L738.31,490.00 L739.33,491.00 L740.34,492.00 L741.36,493.00 L742.38,494.00 L743.40,495.00 L744.41,496.00 L745.43,497.00 L746.45,498.00 L747.48,499.00 L748.50,500.00 L749.52,501.00 L750.54,502.00 L751.56,503.00 L752.59,504.00" stroke="#ff00ff"/>
<path d="M587.93,300.00 L588.83,301.00 L589.73,302.00 L590.63,303.00 L591.53,304.00 L592.44,305.00 L593.34,306.00 L594.25,307.00 L595.15,308.00 L596.06,309.00 L596.96,310.00 L597.87,311.00 L598.78,312.00 L599.69,313.00 L600.60,314.00 L601.51,315.00 L602.42,316.00 L603.33,317.00 L604.24,318.00 L605.15,319.00 L606.06,320.00 L606.97,321.00 L607.89,322.00 L608.80,323.00 L609.72,324.00 L610.63,325.00 L611.55,326.00 L612.47,327.00 L613.38,328.00 L614.30,329.00 L615.22,330.00 L616.14,331.00 L617.06,332.00 L617.98,333.00 L618.90,334.00 L619.82,335.00 L620.74,336.00 L621.67,337.00 L622.59,338.00 L623.51,339.00 L624.44,340.00 L625.36,341.00 L626.29,342.00 L627.22,343.00 L628.14,344.00 L629.07,345.00 L630.00,346.00 L630.93,347.00 L631.86,348.00 L632.79,349.00 L633.72,350.00 L634.65,351.00 L635.58,352.00 L636.51,353.00 L637.45,354.00 L638.38,355.00 L639.31,356.00 L640.25,357.00 L641.18,358.00 L642.12,359.00 L643.06,360.00 L643.99,361.00 L644.93,362.00 L645.87,363.00 L646.81,364.00 L647.75,365.00 L648.69,366.00 L649.63,367.00 L650.57,368.00 L651.51,369.00 L652.46,370.00 L653.40,371.00 L654.34,372.00 L655.29,373.00 L656.23,374.00 L657.18,375.00 L658.13,376.00 L659.07,377.00 L660.02,378.00 L660.97,379.00 L661.92,380.00 L662.87,381.00 L663.82,382.00 L664.77,383.00 L665.72,384.00 L666.67,385.00 L667.62,386.00 L668.58,387.00 L669.53,388.00 L670.48,389.00 L671.44,390.00 L672.39,391.00 L673.35,392.00 L674.31,393.00 L675.26,394.00 L676.22,395.00 L677.18,396.00 L678.14,397.00 L679.10,398.00 L680.06,399.00 L681.02,400.00 L681.98,401.00 L682.94,402.00 L683.91,403.00 L684.87,404.00 L685.83,405.00 L686.80,406.00 L687.76,407.00 L688.73,408.00 L689.70,409.00 L690.66,410.00 L691.63,411.00 L692.60,412.00 L693.57,413.00 L694.54,414.00 L695.51,415.00 L696.48,416.00 L697.45,417.00 L698.42,418.00 L699.39,419.00 L700.37,420.00 L701.34,421.00 L702.31,422.00 L703.29,423.00 L704.26,424.00 L705.24,425.00 L706.22,426.00 L707.19,427.00 L708.17,428.00 L709.15,429.00 L710.13,430.00 L711.11,431.00 L712.09,432.00 L713.07,433.00 L714.05,434.00 L715.03,435.00 L716.02,436.00 L717.00,437.00 L717.98,438.00 L718.97,439.00 L719.95,440.00 L720.94,441.00 L721.92,442.00 L722.91,443.00 L723.90,444.00 L724.89,445.00 L725.88,446.00 L726.87,447.00 L727.86,448.00 L728.85,449.00 L729.84,450.00 L730.83,451.00 L731.82,452.00 L732.81,453.00 L733.81,454.00 L734.80,455.00 L735.80,456.00 L736.79,457.00 L737.79,458.00 L738.78,459.00 L739.78,460.00 L740.78,461.00 L741.78,462.00 L742.78,463.00 L743.78,464.00 L744.78,465.00 L745.78,466.00 L746.78,467.00 L747.78,468.00 L748.78,469.00 L749.79,470.00 L750.79,471.00 L751.80,472.00 L752.80,473.00 L753.81,474.00 L754.81,475.00 L755.82,476.00 L756.83,477.00 L757.84,478.00 L758.84,479.00 L759.85,480.00 L760.86,481.00 L761.87,482.00 L762.88,483.00 L763.90,484.00 L764.91,485.00 L765.92,486.00 L766.94,487.00 L767.95,488.00 L768.96,489.00 L769.98,490.00 L771.00,491.00 L772.01,492.00 L773.03,493.00 L774.05,494.00 L775.07,495.00 L776.08,496.00 L777.10,497.00 L778.12,498.00 L779.15,499.00 L780.17,500.00 L781.19,501.00 L782.21,502.00 L783.23,503.00 L784.26,504.00" stroke="#ff00ff"/>
<path d="M616.22,300.00 L617.12,301.00 L618.02,302.00 L618.92,303.00 L619.82,304.00 L620.73,305.00 L621.63,306.00 L622.54,307.00 L623.44,308.00 L624.35,309.00 L625.25,310.00 L626.16,311.00 L627.07,312.00 L627.98,313.00 L628.89,314.00 L629.80,315.00 L630.71,316.00 L631.62,317.00 L632.53,318.00 L633.44,319.00 L634.35,320.00 L635.26,321.00 L636.18,322.00 L637.09,323.00 L638.01,324.00 L638.92,325.00 L639.84,326.00 L640.76,327.00 L641.67,328.00 L642.59,329.00 L643.51,330.00 L644.43,331.00 L645.35,332.00 L646.27,333.00 L647.19,334.00 L648.11,335.00 L649.03,336.00 L649.96,337.00 L650.88,338.00 L651.80,339.00 L652.73,340.00 L653.65,341.00 L654.58,342.00 L655.51,343.00 L656.43,344.00 L657.36,345.00 L658.29,346.00 L659.22,347.00 L660.15,348.00 L661.08,349.00 L662.01,350.00 L662.94,351.00 L663.87,352.00 L664.80,353.00 L665.74,354.00 L666.67,355.00 L667.60,356.00 L668.54,357.00 L669.47,358.00 L670.41,359.00 L671.35,360.00 L672.28,361.00 L673.22,362.00 L674.16,363.00 L675.10,364.00 L676.04,365.00 L676.98,366.00 L677.92,367.00 L678.86,368.00 L679.80,369.00 L680.75,370.00 L681.69,371.00 L682.63,372.00 L683.58,373.00 L684.52,374.00 L685.47,375.00 L686.42,376.00 L687.36,377.00 L688.31,378.00 L689.26,379.00 L690.21,380.00 L691.16,381.00 L692.11,382.00 L693.06,383.00 L694.01,384.00 L694.96,385.00 L695.91,386.00 L696.87,387.00 L697.82,388.00 L698.77,389.00 L699.73,390.00 L700.68,391.00 L701.64,392.00 L702.60,393.00 L703.55,394.00 L704.51,395.00 L705.47,396.00 L706.43,397.00 L707.39,398.00 L708.35,399.00 L709.31,400.00 L710.27,401.00 L711.23,402.00 L712.20,403.00 L713.16,404.00 L714.12,405.00 L715.09,406.00 L716.05,407.00 L717.02,408.00 L717.99,409.00 L718.95,410.00 L719.92,411.00 L720.89,412.00 L721.86,413.00 L722.83,414.00 L723.80,415.00 L724.77,416.00 L725.74,417.00 L726.71,418.00 L727.68,419.00 L728.66,420.00 L729.63,421.00 L730.60,422.00 L731.58,423.00 L732.55,424.00 L733.53,425.00 L734.51,426.00 L735.48,427.00 L736.46,428.00 L737.44,429.00 L738.42,430.00 L739.40,431.00 L740.38,432.00 L741.36,433.00 L742.34,434.00 L743.32,435.00 L744.31,436.00 L745.29,437.00 L746.27,438.00 L747.26,439.00 L748.24,440.00 L749.23,441.00 L750.21,442.00 L751.20,443.00 L752.19,444.00 L753.18,445.00 L754.17,446.00 L755.16,447.00 L756.15,448.00 L757.14,449.00 L758.13,450.00 L759.12,451.00 L760.11,452.00 L761.10,453.00 L762.10,454.00 L763.09,455.00 L764.09,456.00 L765.08,457.00 L766.08,458.00 L767.07,459.00 L768.07,460.00 L769.07,461.00 L770.07,462.00 L771.07,463.00 L772.07,464.00 L773.07,465.00 L774.07,466.00 L775.07,467.00 L776.07,468.00 L777.07,469.00 L778.08,470.00 L779.08,471.00 L780.09,472.00 L781.09,473.00 L782.10,474.00 L783.10,475.00 L784.11,476.00 L785.12,477.00 L786.13,478.00 L787.13,479.00 L788.14,480.00 L789.15,481.00 L790.16,482.00 L791.17,483.00 L792.19,484.00 L793.20,485.00 L794.21,486.00 L795.23,487.00 L796.24,488.00 L797.25,489.00 L798.27,490.00 L799.29,491.00 L800.30,492.00 L801.32,493.00 L802.34,494.00 L803.36,495.00 L804.37,496.00 L805.39,497.00 L806.41,498.00 L807.44,499.00 L808.46,500.00 L809.48,501.00 L810.50,502.00 L811.52,503.00 L812.55,504.00" stroke="#ff00ff"/>
<path d="M556.26,300.00 L557.16,301.00 L558.06,302.00 L558.96,303.00 L559.86,304.00 L560.77,305.00 L561.67,306.00 L562.58,307.00 L563.48,308.00 L564.39,309.00 L565.29,310.00 L566.20,311.00 L567.11,312.00 L568.02,313.00 L568.93,314.00 L569.84,315.00 L570.75,316.00 L571.66,317.00 L572.57,318.00 L573.48,319.00 L574.39,320.00 L575.30,321.00 L576.22,322.00 L577.13,323.00 L578.05,324.00 L578.96,325.00 L579.88,326.00 L580.80,327.00 L581.71,328.00 L582.63,329.00 L583.55,330.00 L584.47,331.00 L585.39,332.00 L586.31,333.00 L587.23,334.00 L588.15,335.00 L589.07,336.00 L590.00,337.00 L590.92,338.00 L591.84,339.00 L592.77,340.00 L593.69,341.00 L594.62,342.00 L595.55,343.00 L596.47,344.00 L597.40,345.00 L598.33,346.00 L599.26,347.00 L600.19,348.00 L601.12,349.00 L602.05,350.00 L602.98,351.00 L603.91,352.00 L604.84,353.00 L605.78,354.00 L606.71,355.00 L607.64,356.00 L608.58,357.00 L609.51,358.00 L610.45,359.00 L611.39,360.00 L612.32,361.00 L613.26,362.00 L614.20,363.00 L615.14,364.00 L616.08,365.00 L617.02,366.00 L617.96,367.00 L618.90,368.00 L619.84,369.00 L620.79,370.00 L621.73,371.00 L622.67,372.00 L623.62,373.00 L624.56,374.00 L625.51,375.00 L626.46,376.00 L627.40,377.00 L628.35,378.00 L629.30,379.00 L630.25,380.00 L631.20,381.00 L632.15,382.00 L633.10,383.00 L634.05,384.00 L635.00,385.00 L635.95,386.00 L636.91,387.00 L637.86,388.00 L638.81,389.00 L639.77,390.00 L640.72,391.00 L641.68,392.00 L642.64,393.00 L643.59,394.00 L644.55,395.00 L645.51,396.00 L646.47,397.00 L647.43,398.00 L648.39,399.00 L649.35,400.00 L650.31,401.00 L651.27,402.00 L652.24,403.00 L653.20,404.00 L654.16,405.00 L655.13,406.00 L656.09,407.00 L657.06,408.00 L658.03,409.00 L658.99,410.00 L659.96,411.00 L660.93,412.00 L661.90,413.00 L662.87,414.00 L663.84,415.00 L664.81,416.00 L665.78,417.00 L666.75,418.00 L667.72,419.00 L668.70,420.00 L669.67,421.00 L670.64,422.00 L671.62,423.00 L672.59,424.00 L673.57,425.00 L674.55,426.00 L675.52,427.00 L676.50,428.00 L677.48,429.00 L678.46,430.00 L679.44,431.00 L680.42,432.00 L681.40,433.00 L682.38,434.00 L683.36,435.00 L684.35,436.00 L685.33,437.00 L686.31,438.00 L687.30,439.00 L688.28,440.00 L689.27,441.00 L690.25,442.00 L691.24,443.00 L692.23,444.00 L693.22,445.00 L694.21,446.00 L695.20,447.00 L696.19,448.00 L697.18,449.00 L698.17,450.00 L699.16,451.00 L700.15,452.00 L701.14,453.00 L702.14,454.00 L703.13,455.00 L704.13,456.00 L705.12,457.00 L706.12,458.00 L707.11,459.00 L708.11,460.00 L709.11,461.00 L710.11,462.00 L711.11,463.00 L712.11,464.00 L713.11,465.00 L714.11,466.00 L715.11,467.00 L716.11,468.00 L717.11,469.00 L718.12,470.00 L719.12,471.00 L720.13,472.00 L721.13,473.00 L722.14,474.00 L723.14,475.00 L724.15,476.00 L725.16,477.00 L726.17,478.00 L727.17,479.00 L728.18,480.00 L729.19,481.00 L730.20,482.00 L731.21,483.00 L732.23,484.00 L733.24,485.00 L734.25,486.00 L735.27,487.00 L736.28,488.00 L737.29,489.00 L738.31,490.00 L739.33,491.00 L740.34,492.00 L741.36,493.00 L742.38,494.00 L743.40,495.00 L744.41,496.00 L745.43,497.00 L746.45,498.00 L747.48,499.00 L748.50,500.00 L749.52,501.00 L750.54,502.00 L751.56,503.00 L752.59,504.00" stroke="#0000ff" stroke-dasharray="18.70 10.60" stroke-dashoffset="20.46"/>
<path d="M537.01,300.00 L537.91,301.00 L538.81,302.00 L539.71,303.00 L540.61,304.00 L541.52,305.00 L542.42,306.00 L543.33,307.00 L544.23,308.00 L545.14,309.00 L546.04,310.00 L546.95,311.00 L547.86,312.00 L548.77,313.00 L549.68,314.00 L550.59,315.00 L551.50,316.00 L552.41,317.00 L553.32,318.00 L554.23,319.00 L555.14,320.00 L556.05,321.00 L556.97,322.00 L557.88,323.00 L558.80,324.00 L559.71,325.00 L560.63,326.00 L561.55,327.00 L562.46,328.00 L563.38,329.00 L564.30,330.00 L565.22,331.00 L566.14,332.00 L567.06,333.00 L567.98,334.00 L568.90,335.00 L569.82,336.00 L570.75,337.00 L571.67,338.00 L572.59,339.00 L573.52,340.00 L574.44,341.00 L575.37,342.00 L576.30,343.00 L577.22,344.00 L578.15,345.00 L579.08,346.00 L580.01,347.00 L580.94,348.00 L581.87,349.00 L582.80,350.00 L583.73,351.00 L584.66,352.00 L585.59,353.00 L586.53,354.00 L587.46,355.00 L588.39,356.00 L589.33,357.00 L590.26,358.00 L591.20,359.00 L592.14,360.00 L593.07,361.00 L594.01,362.00 L594.95,363.00 L595.89,364.00 L596.83,365.00 L597.77,366.00 L598.71,367.00 L599.65,368.00 L600.59,369.00 L601.54,370.00 L602.48,371.00 L603.42,372.00 L604.37,373.00 L605.31,374.00 L606.26,375.00 L607.21,376.00 L608.15,377.00 L609.10,378.00 L610.05,379.00 L611.00,380.00 L611.95,381.00 L612.90,382.00 L613.85,383.00 L614.80,384.00 L615.75,385.00 L616.70,386.00 L617.66,387.00 L618.61,388.00 L619.56,389.00 L620.52,390.00 L621.47,391.00 L622.43,392.00 L623.39,393.00 L624.34,394.00 L625.30,395.00 L626.26,396.00 L627.22,397.00 L628.18,398.00 L629.14,399.00 L630.10,400.00 L631.06,401.00 L632.02,402.00 L632.99,403.00 L633.95,404.00 L634.91,405.00 L635.88,406.00 L636.84,407.00 L637.81,408.00 L638.78,409.00 L639.74,410.00 L640.71,411.00 L641.68,412.00 L642.65,413.00 L643.62,414.00 L644.59,415.00 L645.56,416.00 L646.53,417.00 L647.50,418.00 L648.47,419.00 L649.45,420.00 L650.42,421.00 L651.39,422.00 L652.37,423.00 L653.34,424.00 L654.32,425.00 L655.30,426.00 L656.27,427.00 L657.25,428.00 L658.23,429.00 L659.21,430.00 L660.19,431.00 L661.17,432.00 L662.15,433.00 L663.13,434.00 L664.11,435.00 L665.10,436.00 L666.08,437.00 L667.06,438.00 L668.05,439.00 L669.03,440.00 L670.02,441.00 L671.00,442.00 L671.99,443.00 L672.98,444.00 L673.97,445.00 L674.96,446.00 L675.95,447.00 L676.94,448.00 L677.93,449.00 L678.92,450.00 L679.91,451.00 L680.90,452.00 L681.89,453.00 L682.89,454.00 L683.88,455.00 L684.88,456.00 L685.87,457.00 L686.87,458.00 L687.86,459.00 L688.86,460.00 L689.86,461.00 L690.86,462.00 L691.86,463.00 L692.86,464.00 L693.86,465.00 L694.86,466.00 L695.86,467.00 L696.86,468.00 L697.86,469.00 L698.87,470.00 L699.87,471.00 L700.88,472.00 L701.88,473.00 L702.89,474.00 L703.89,475.00 L704.90,476.00 L705.91,477.00 L706.92,478.00 L707.92,479.00 L708.93,480.00 L709.94,481.00 L710.95,482.00 L711.96,483.00 L712.98,484.00 L713.99,485.00 L715.00,486.00 L716.02,487.00 L717.03,488.00 L718.04,489.00 L719.06,490.00 L720.08,491.00 L721.09,492.00 L722.11,493.00 L723.13,494.00 L724.15,495.00 L725.16,496.00 L726.18,497.00 L727.20,498.00 L728.23,499.00 L729.25,500.00 L730.27,501.00 L731.29,502.00 L732.31,503.00 L733.34,504.00" stroke="#0000ff" stroke-dasharray="18.70 10.60" stroke-dashoffset="21.61"/>
<path d="M516.91,300.00 L517.81,301.00 L518.71,302.00 L519.61,303.00 L520.51,304.00 L521.42,305.00 L522.32,306.00 L523.23,307.00 L524.13,308.00 L525.04,309.00 L525.94,310.00 L526.85,311.00 L527.76,312.00 L528.67,313.00 L529.58,314.00 L530.49,315.00 L531.40,316.00 L532.31,317.00 L533.22,318.00 L534.13,319.00 L535.04,320.00 L535.95,321.00 L536.87,322.00 L537.78,323.00 L538.70,324.00 L539.61,325.00 L540.53,326.00 L541.45,327.00 L542.36,328.00 L543.28,329.00 L544.20,330.00 L545.12,331.00 L546.04,332.00 L546.96,333.00 L547.88,334.00 L548.80,335.00 L549.72,336.00 L550.65,337.00 L551.57,338.00 L552.49,339.00 L553.42,340.00 L554.34,341.00 L555.27,342.00 L556.20,343.00 L557.12,344.00 L558.05,345.00 L558.98,346.00 L559.91,347.00 L560.84,348.00 L561.77,349.00 L562.70,350.00 L563.63,351.00 L564.56,352.00 L565.49,353.00 L566.43,354.00 L567.36,355.00 L568.29,356.00 L569.23,357.00 L570.16,358.00 L571.10,359.00 L572.04,360.00 L572.97,361.00 L573.91,362.00 L574.85,363.00 L575.79,364.00 L576.73,365.00 L577.67,366.00 L578.61,367.00 L579.55,368.00 L580.49,369.00 L581.44,370.00 L582.38,371.00 L583.32,372.00 L584.27,373.00 L585.21,374.00 L586.16,375.00 L587.11,376.00 L588.05,377.00 L589.00,378.00 L589.95,379.00 L590.90,380.00 L591.85,381.00 L592.80,382.00 L593.75,383.00 L594.70,384.00 L595.65,385.00 L596.60,386.00 L597.56,387.00 L598.51,388.00 L599.46,389.00 L600.42,390.00 L601.37,391.00 L602.33,392.00 L603.29,393.00 L604.24,394.00 L605.20,395.00 L606.16,396.00 L607.12,397.00 L608.08,398.00 L609.04,399.00 L610.00,400.00 L610.96,401.00 L611.92,402.00 L612.89,403.00 L613.85,404.00 L614.81,405.00 L615.78,406.00 L616.74,407.00 L617.71,408.00 L618.68,409.00 L619.64,410.00 L620.61,411.00 L621.58,412.00 L622.55,413.00 L623.52,414.00 L624.49,415.00 L625.46,416.00 L626.43,417.00 L627.40,418.00 L628.37,419.00 L629.35,420.00 L630.32,421.00 L631.29,422.00 L632.27,423.00 L633.24,424.00 L634.22,425.00 L635.20,426.00 L636.17,427.00 L637.15,428.00 L638.13,429.00 L639.11,430.00 L640.09,431.00 L641.07,432.00 L642.05,433.00 L643.03,434.00 L644.01,435.00 L645.00,436.00 L645.98,437.00 L646.96,438.00 L647.95,439.00 L648.93,440.00 L649.92,441.00 L650.90,442.00 L651.89,443.00 L652.88,444.00 L653.87,445.00 L654.86,446.00 L655.85,447.00 L656.84,448.00 L657.83,449.00 L658.82,450.00 L659.81,451.00 L660.80,452.00 L661.79,453.00 L662.79,454.00 L663.78,455.00 L664.78,456.00 L665.77,457.00 L666.77,458.00 L667.76,459.00 L668.76,460.00 L669.76,461.00 L670.76,462.00 L671.76,463.00 L672.76,464.00 L673.76,465.00 L674.76,466.00 L675.76,467.00 L676.76,468.00 L677.76,469.00 L678.77,470.00 L679.77,471.00 L680.78,472.00 L681.78,473.00 L682.79,474.00 L683.79,475.00 L684.80,476.00 L685.81,477.00 L686.82,478.00 L687.82,479.00 L688.83,480.00 L689.84,481.00 L690.85,482.00 L691.86,483.00 L692.88,484.00 L693.89,485.00 L694.90,486.00 L695.92,487.00 L696.93,488.00 L697.94,489.00 L698.96,490.00 L699.98,491.00 L700.99,492.00 L702.01,493.00 L703.03,494.00 L704.05,495.00 L705.06,496.00 L706.08,497.00 L707.10,498.00 L708.13,499.00 L709.15,500.00 L710.17,501.00 L711.19,502.00 L712.21,503.00 L713.24,504.00" stroke="#0000ff" stroke-dasharray="18.70 10.60" stroke-dashoffset="21.72"/>
</g>
<path d="M583.8,487 V484.5 M583.8,318.5 V321 M651.75,487 V484.5 M651.75,318.5 V321 M719.7,487 V484.5 M719.7,318.5 V321 M790.2,326.10 H786.2 M790.2,362.35 H786.2 M790.2,398.60 H786.2 M790.2,434.85 H786.2 M790.2,471.10 H786.2" stroke="#000" stroke-width="1.3"/>
<text transform="translate(505.62,335.90) scale(1.0098,1.0000)" font-family="Liberation Serif, serif" font-size="26" font-weight="bold" fill="#000">0.234</text>
<text transform="translate(506.26,372.15) scale(1.0098,1.0000)" font-family="Liberation Serif, serif" font-size="26" font-weight="bold" fill="#000">0.232</text>
<text transform="translate(519.15,408.40) scale(1.0098,1.0000)" font-family="Liberation Serif, serif" font-size="26" font-weight="bold" fill="#000">0.23</text>
<text transform="translate(506.00,444.65) scale(1.0098,1.0000)" font-family="Liberation Serif, serif" font-size="26" font-weight="bold" fill="#000">0.228</text>
<text transform="translate(505.90,480.90) scale(1.0098,1.0000)" font-family="Liberation Serif, serif" font-size="26" font-weight="bold" fill="#000">0.226</text>
<text transform="translate(552.24,516.60) scale(1.0211,1.0000)" font-family="Liberation Serif, serif" font-size="26" font-weight="bold" fill="#000">0.395</text>
<text transform="translate(633.39,516.60) scale(1.0185,1.0000)" font-family="Liberation Serif, serif" font-size="26" font-weight="bold" fill="#000">0.4</text>
<text transform="translate(688.37,516.60) scale(1.0450,1.0000)" font-family="Liberation Serif, serif" font-size="26" font-weight="bold" fill="#000">0.405</text>
<line x1="140.2" y1="478.5" x2="565.5" y2="378.8" stroke="#000" stroke-width="1.2"/>
<text transform="translate(201.28,537.40) scale(1.1058,1.0000)" font-family="Liberation Serif, serif" font-size="27" fill="#000">χ</text>
<text transform="translate(219.96,537.50) scale(1.1038,1.0700)" font-family="Liberation Sans, sans-serif" font-size="24" fill="#000">= 0,</text>
<text transform="translate(270.40,537.50) scale(0.9114,1.0700)" font-family="Liberation Sans, sans-serif" font-size="24" fill="#000">0.01</text>
<text transform="translate(318.22,537.50) scale(1.0000,1.0700)" font-family="Liberation Sans, sans-serif" font-size="24" fill="#000">,</text>
<text transform="translate(330.98,537.50) scale(0.9806,1.0700)" font-family="Liberation Sans, sans-serif" font-size="24" fill="#000">0.02</text>
<line x1="191.2" y1="545.7" x2="177" y2="562.5" stroke="#000" stroke-width="1.1"/>
<path d="M172.3,554.3 L173.6,560 L176.6,563.3 L187.9,566 L165,579.6 L166.3,569.9 L168.6,562.6 L170.6,559 Z" fill="#000"/>
</svg></body></html>
